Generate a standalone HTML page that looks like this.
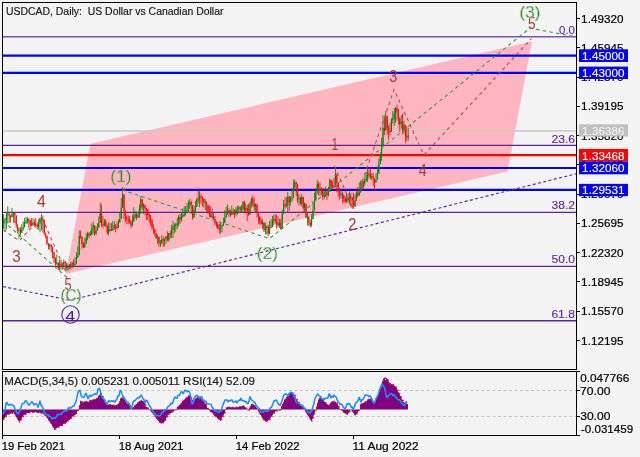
<!DOCTYPE html>
<html><head><meta charset="utf-8"><style>
html,body{margin:0;padding:0;background:#f4f4f4;width:640px;height:457px;overflow:hidden}
svg{display:block;will-change:transform}
</style></head><body><svg width="640" height="457" viewBox="0 0 640 457"><rect x="0" y="0" width="640" height="457" fill="#f4f4f4"/><rect x="2.5" y="2.5" width="574" height="367" fill="#f3f3f3"/><rect x="2.5" y="371.5" width="574" height="64" fill="#f3f3f3"/><polygon points="90.5,143.7 532,41.5 507.5,171.6 65.7,274" fill="#ffb6c1"/><line x1="3" y1="36.7" x2="576" y2="36.7" stroke="#8050b8" stroke-width="1.6"/><line x1="3" y1="55.6" x2="576" y2="55.6" stroke="#0000ff" stroke-width="2.2"/><line x1="3" y1="72.9" x2="576" y2="72.9" stroke="#0000ff" stroke-width="2.2"/><line x1="3" y1="131" x2="576" y2="131" stroke="#c8c8c8" stroke-width="1.5"/><line x1="3" y1="145.4" x2="576" y2="145.4" stroke="#5e22a0" stroke-width="1.4"/><line x1="3" y1="155.1" x2="576" y2="155.1" stroke="#ff0000" stroke-width="2.2"/><line x1="3" y1="168.0" x2="576" y2="168.0" stroke="#0000ff" stroke-width="2.2"/><line x1="3" y1="189.9" x2="576" y2="189.9" stroke="#0000ff" stroke-width="2.2"/><line x1="3" y1="212.4" x2="576" y2="212.4" stroke="#5e22a0" stroke-width="1.4"/><line x1="3" y1="266.4" x2="576" y2="266.4" stroke="#5e22a0" stroke-width="1.4"/><line x1="3" y1="320.8" x2="576" y2="320.8" stroke="#5e22a0" stroke-width="1.4"/><polyline points="3,286.5 70,300.3 576,173.8" fill="none" stroke="#5e22a0" stroke-width="1.15" stroke-dasharray="3,2.4"/><rect x="3.20" y="214.2" width="0.8" height="14.3" fill="#008000"/><rect x="3.05" y="220.7" width="1.1" height="1.9" fill="#008000"/><rect x="4.60" y="217.9" width="0.8" height="13.8" fill="#008000"/><rect x="4.45" y="219.4" width="1.1" height="1.5" fill="#008000"/><rect x="6.00" y="213.0" width="0.8" height="16.3" fill="#008000"/><rect x="5.85" y="214.8" width="1.1" height="4.9" fill="#008000"/><rect x="7.40" y="206.3" width="0.8" height="17.2" fill="#008000"/><rect x="7.25" y="213.7" width="1.1" height="1.5" fill="#008000"/><rect x="8.80" y="211.9" width="0.8" height="11.1" fill="#ff0000"/><rect x="8.65" y="214.1" width="1.1" height="1.5" fill="#ff0000"/><rect x="10.20" y="215.1" width="0.8" height="7.3" fill="#ff0000"/><rect x="10.05" y="215.5" width="1.1" height="1.8" fill="#ff0000"/><rect x="11.60" y="207.9" width="0.8" height="9.3" fill="#008000"/><rect x="11.45" y="213.8" width="1.1" height="3.4" fill="#008000"/><rect x="13.00" y="212.5" width="0.8" height="10.2" fill="#008000"/><rect x="12.85" y="212.5" width="1.1" height="1.5" fill="#008000"/><rect x="14.40" y="212.1" width="0.8" height="11.3" fill="#ff0000"/><rect x="14.25" y="212.7" width="1.1" height="2.6" fill="#ff0000"/><rect x="15.80" y="215.4" width="0.8" height="12.1" fill="#ff0000"/><rect x="15.65" y="215.4" width="1.1" height="9.9" fill="#ff0000"/><rect x="17.20" y="224.4" width="0.8" height="9.0" fill="#ff0000"/><rect x="17.05" y="225.3" width="1.1" height="4.8" fill="#ff0000"/><rect x="18.60" y="227.2" width="0.8" height="11.6" fill="#008000"/><rect x="18.45" y="229.4" width="1.1" height="1.5" fill="#008000"/><rect x="20.00" y="227.0" width="0.8" height="9.4" fill="#ff0000"/><rect x="19.85" y="230.1" width="1.1" height="2.7" fill="#ff0000"/><rect x="21.40" y="223.9" width="0.8" height="8.9" fill="#008000"/><rect x="21.25" y="228.7" width="1.1" height="4.1" fill="#008000"/><rect x="22.80" y="221.5" width="0.8" height="9.0" fill="#008000"/><rect x="22.65" y="227.2" width="1.1" height="1.5" fill="#008000"/><rect x="24.20" y="218.2" width="0.8" height="9.1" fill="#008000"/><rect x="24.05" y="222.6" width="1.1" height="4.7" fill="#008000"/><rect x="25.60" y="216.9" width="0.8" height="6.7" fill="#008000"/><rect x="25.45" y="221.7" width="1.1" height="1.5" fill="#008000"/><rect x="27.00" y="217.2" width="0.8" height="6.3" fill="#008000"/><rect x="26.85" y="218.9" width="1.1" height="3.4" fill="#008000"/><rect x="28.40" y="218.3" width="0.8" height="10.0" fill="#ff0000"/><rect x="28.25" y="218.9" width="1.1" height="1.5" fill="#ff0000"/><rect x="29.80" y="220.0" width="0.8" height="7.6" fill="#ff0000"/><rect x="29.65" y="220.3" width="1.1" height="4.3" fill="#ff0000"/><rect x="31.20" y="218.0" width="0.8" height="8.3" fill="#ff0000"/><rect x="31.05" y="224.1" width="1.1" height="1.5" fill="#ff0000"/><rect x="32.60" y="217.9" width="0.8" height="8.2" fill="#008000"/><rect x="32.45" y="222.4" width="1.1" height="2.6" fill="#008000"/><rect x="34.00" y="219.6" width="0.8" height="7.2" fill="#ff0000"/><rect x="33.85" y="222.4" width="1.1" height="2.3" fill="#ff0000"/><rect x="35.40" y="218.0" width="0.8" height="9.6" fill="#ff0000"/><rect x="35.25" y="224.1" width="1.1" height="1.5" fill="#ff0000"/><rect x="36.80" y="222.5" width="0.8" height="6.6" fill="#ff0000"/><rect x="36.65" y="224.9" width="1.1" height="1.7" fill="#ff0000"/><rect x="38.20" y="219.8" width="0.8" height="10.2" fill="#008000"/><rect x="38.05" y="223.6" width="1.1" height="3.0" fill="#008000"/><rect x="39.60" y="218.1" width="0.8" height="14.1" fill="#008000"/><rect x="39.45" y="219.6" width="1.1" height="4.0" fill="#008000"/><rect x="41.00" y="213.9" width="0.8" height="16.4" fill="#008000"/><rect x="40.85" y="218.6" width="1.1" height="1.5" fill="#008000"/><rect x="42.40" y="215.5" width="0.8" height="17.2" fill="#ff0000"/><rect x="42.25" y="218.7" width="1.1" height="1.5" fill="#ff0000"/><rect x="43.80" y="219.8" width="0.8" height="15.5" fill="#ff0000"/><rect x="43.65" y="219.8" width="1.1" height="13.2" fill="#ff0000"/><rect x="45.20" y="232.8" width="0.8" height="5.7" fill="#ff0000"/><rect x="45.05" y="233.0" width="1.1" height="2.8" fill="#ff0000"/><rect x="46.60" y="235.8" width="0.8" height="9.5" fill="#ff0000"/><rect x="46.45" y="235.8" width="1.1" height="7.7" fill="#ff0000"/><rect x="48.00" y="243.5" width="0.8" height="5.8" fill="#ff0000"/><rect x="47.85" y="243.5" width="1.1" height="2.7" fill="#ff0000"/><rect x="49.40" y="243.3" width="0.8" height="6.9" fill="#008000"/><rect x="49.25" y="245.0" width="1.1" height="1.5" fill="#008000"/><rect x="50.80" y="244.0" width="0.8" height="8.3" fill="#ff0000"/><rect x="50.65" y="245.2" width="1.1" height="1.5" fill="#ff0000"/><rect x="52.20" y="246.6" width="0.8" height="12.0" fill="#ff0000"/><rect x="52.05" y="246.6" width="1.1" height="5.3" fill="#ff0000"/><rect x="53.60" y="251.9" width="0.8" height="10.8" fill="#ff0000"/><rect x="53.45" y="251.9" width="1.1" height="6.5" fill="#ff0000"/><rect x="55.00" y="257.2" width="0.8" height="8.9" fill="#ff0000"/><rect x="54.85" y="258.4" width="1.1" height="4.8" fill="#ff0000"/><rect x="56.40" y="254.4" width="0.8" height="10.4" fill="#008000"/><rect x="56.25" y="262.1" width="1.1" height="1.5" fill="#008000"/><rect x="57.80" y="262.6" width="0.8" height="7.5" fill="#ff0000"/><rect x="57.65" y="262.6" width="1.1" height="5.8" fill="#ff0000"/><rect x="59.20" y="259.5" width="0.8" height="10.6" fill="#008000"/><rect x="59.05" y="263.6" width="1.1" height="4.8" fill="#008000"/><rect x="60.60" y="259.6" width="0.8" height="10.6" fill="#ff0000"/><rect x="60.45" y="263.6" width="1.1" height="2.1" fill="#ff0000"/><rect x="62.00" y="263.0" width="0.8" height="6.6" fill="#008000"/><rect x="61.85" y="264.8" width="1.1" height="1.5" fill="#008000"/><rect x="63.40" y="259.4" width="0.8" height="9.7" fill="#008000"/><rect x="63.25" y="261.9" width="1.1" height="3.4" fill="#008000"/><rect x="64.80" y="261.0" width="0.8" height="8.9" fill="#ff0000"/><rect x="64.65" y="261.6" width="1.1" height="1.5" fill="#ff0000"/><rect x="66.20" y="262.9" width="0.8" height="7.8" fill="#ff0000"/><rect x="66.05" y="262.9" width="1.1" height="5.5" fill="#ff0000"/><rect x="67.60" y="264.4" width="0.8" height="6.8" fill="#008000"/><rect x="67.45" y="266.7" width="1.1" height="1.6" fill="#008000"/><rect x="69.00" y="264.1" width="0.8" height="5.0" fill="#008000"/><rect x="68.85" y="264.9" width="1.1" height="1.8" fill="#008000"/><rect x="70.40" y="261.8" width="0.8" height="7.7" fill="#ff0000"/><rect x="70.25" y="264.3" width="1.1" height="1.5" fill="#ff0000"/><rect x="71.80" y="261.5" width="0.8" height="6.6" fill="#008000"/><rect x="71.65" y="263.1" width="1.1" height="2.0" fill="#008000"/><rect x="73.20" y="259.7" width="0.8" height="7.8" fill="#ff0000"/><rect x="73.05" y="263.1" width="1.1" height="1.8" fill="#ff0000"/><rect x="74.60" y="257.0" width="0.8" height="8.7" fill="#008000"/><rect x="74.45" y="263.5" width="1.1" height="1.5" fill="#008000"/><rect x="76.00" y="252.4" width="0.8" height="11.2" fill="#008000"/><rect x="75.85" y="257.8" width="1.1" height="5.7" fill="#008000"/><rect x="77.40" y="246.3" width="0.8" height="11.5" fill="#008000"/><rect x="77.25" y="255.2" width="1.1" height="2.6" fill="#008000"/><rect x="78.80" y="230.2" width="0.8" height="25.0" fill="#008000"/><rect x="78.65" y="236.0" width="1.1" height="19.2" fill="#008000"/><rect x="80.20" y="230.5" width="0.8" height="8.0" fill="#ff0000"/><rect x="80.05" y="235.6" width="1.1" height="1.5" fill="#ff0000"/><rect x="81.60" y="236.7" width="0.8" height="12.1" fill="#ff0000"/><rect x="81.45" y="236.7" width="1.1" height="7.8" fill="#ff0000"/><rect x="83.00" y="242.1" width="0.8" height="5.8" fill="#ff0000"/><rect x="82.85" y="244.5" width="1.1" height="3.0" fill="#ff0000"/><rect x="84.40" y="237.7" width="0.8" height="9.8" fill="#008000"/><rect x="84.25" y="244.0" width="1.1" height="3.5" fill="#008000"/><rect x="85.80" y="233.2" width="0.8" height="10.8" fill="#008000"/><rect x="85.65" y="238.2" width="1.1" height="5.8" fill="#008000"/><rect x="87.20" y="231.7" width="0.8" height="8.7" fill="#008000"/><rect x="87.05" y="233.4" width="1.1" height="4.8" fill="#008000"/><rect x="88.60" y="232.1" width="0.8" height="5.9" fill="#ff0000"/><rect x="88.45" y="233.4" width="1.1" height="2.1" fill="#ff0000"/><rect x="90.00" y="230.5" width="0.8" height="5.4" fill="#008000"/><rect x="89.85" y="234.4" width="1.1" height="1.5" fill="#008000"/><rect x="91.40" y="223.4" width="0.8" height="11.6" fill="#008000"/><rect x="91.25" y="228.2" width="1.1" height="6.7" fill="#008000"/><rect x="92.80" y="221.4" width="0.8" height="11.9" fill="#008000"/><rect x="92.65" y="225.4" width="1.1" height="2.8" fill="#008000"/><rect x="94.20" y="225.4" width="0.8" height="10.3" fill="#ff0000"/><rect x="94.05" y="225.4" width="1.1" height="8.5" fill="#ff0000"/><rect x="95.60" y="225.9" width="0.8" height="9.3" fill="#008000"/><rect x="95.45" y="230.5" width="1.1" height="3.3" fill="#008000"/><rect x="97.00" y="223.4" width="0.8" height="7.2" fill="#008000"/><rect x="96.85" y="227.5" width="1.1" height="3.0" fill="#008000"/><rect x="98.40" y="216.4" width="0.8" height="11.1" fill="#008000"/><rect x="98.25" y="222.9" width="1.1" height="4.7" fill="#008000"/><rect x="99.80" y="202.5" width="0.8" height="20.4" fill="#008000"/><rect x="99.65" y="213.3" width="1.1" height="9.6" fill="#008000"/><rect x="101.20" y="204.4" width="0.8" height="22.5" fill="#ff0000"/><rect x="101.05" y="213.3" width="1.1" height="10.9" fill="#ff0000"/><rect x="102.60" y="216.3" width="0.8" height="12.0" fill="#ff0000"/><rect x="102.45" y="224.0" width="1.1" height="1.5" fill="#ff0000"/><rect x="104.00" y="218.9" width="0.8" height="7.4" fill="#008000"/><rect x="103.85" y="221.4" width="1.1" height="3.9" fill="#008000"/><rect x="105.40" y="219.3" width="0.8" height="7.9" fill="#ff0000"/><rect x="105.25" y="221.4" width="1.1" height="4.6" fill="#ff0000"/><rect x="106.80" y="224.3" width="0.8" height="10.1" fill="#ff0000"/><rect x="106.65" y="226.0" width="1.1" height="6.7" fill="#ff0000"/><rect x="108.20" y="222.2" width="0.8" height="13.4" fill="#008000"/><rect x="108.05" y="229.1" width="1.1" height="3.6" fill="#008000"/><rect x="109.60" y="222.9" width="0.8" height="8.9" fill="#ff0000"/><rect x="109.45" y="229.1" width="1.1" height="1.6" fill="#ff0000"/><rect x="111.00" y="223.1" width="0.8" height="7.9" fill="#008000"/><rect x="110.85" y="229.5" width="1.1" height="1.5" fill="#008000"/><rect x="112.40" y="221.0" width="0.8" height="9.9" fill="#008000"/><rect x="112.25" y="228.2" width="1.1" height="1.6" fill="#008000"/><rect x="113.80" y="221.2" width="0.8" height="8.7" fill="#008000"/><rect x="113.65" y="224.8" width="1.1" height="3.4" fill="#008000"/><rect x="115.20" y="224.3" width="0.8" height="7.6" fill="#ff0000"/><rect x="115.05" y="224.8" width="1.1" height="1.9" fill="#ff0000"/><rect x="116.60" y="221.5" width="0.8" height="8.0" fill="#ff0000"/><rect x="116.45" y="226.5" width="1.1" height="1.5" fill="#ff0000"/><rect x="118.00" y="219.3" width="0.8" height="8.6" fill="#008000"/><rect x="117.85" y="222.5" width="1.1" height="5.4" fill="#008000"/><rect x="119.40" y="212.8" width="0.8" height="9.6" fill="#008000"/><rect x="119.25" y="219.0" width="1.1" height="3.5" fill="#008000"/><rect x="120.80" y="197.8" width="0.8" height="21.2" fill="#008000"/><rect x="120.65" y="207.6" width="1.1" height="11.5" fill="#008000"/><rect x="122.20" y="187.1" width="0.8" height="20.5" fill="#008000"/><rect x="122.05" y="194.5" width="1.1" height="13.0" fill="#008000"/><rect x="123.60" y="194.5" width="0.8" height="24.5" fill="#ff0000"/><rect x="123.45" y="194.5" width="1.1" height="16.2" fill="#ff0000"/><rect x="125.00" y="210.5" width="0.8" height="11.5" fill="#ff0000"/><rect x="124.85" y="210.7" width="1.1" height="6.5" fill="#ff0000"/><rect x="126.40" y="215.1" width="0.8" height="9.3" fill="#ff0000"/><rect x="126.25" y="217.1" width="1.1" height="2.0" fill="#ff0000"/><rect x="127.80" y="215.4" width="0.8" height="9.0" fill="#ff0000"/><rect x="127.65" y="219.0" width="1.1" height="1.5" fill="#ff0000"/><rect x="129.20" y="216.1" width="0.8" height="7.6" fill="#ff0000"/><rect x="129.05" y="220.2" width="1.1" height="1.5" fill="#ff0000"/><rect x="130.60" y="220.0" width="0.8" height="8.1" fill="#ff0000"/><rect x="130.45" y="221.5" width="1.1" height="3.7" fill="#ff0000"/><rect x="132.00" y="214.7" width="0.8" height="11.7" fill="#008000"/><rect x="131.85" y="221.7" width="1.1" height="3.5" fill="#008000"/><rect x="133.40" y="207.0" width="0.8" height="14.7" fill="#008000"/><rect x="133.25" y="216.6" width="1.1" height="5.1" fill="#008000"/><rect x="134.80" y="211.2" width="0.8" height="7.7" fill="#008000"/><rect x="134.65" y="214.5" width="1.1" height="2.1" fill="#008000"/><rect x="136.20" y="212.3" width="0.8" height="7.6" fill="#ff0000"/><rect x="136.05" y="214.5" width="1.1" height="3.0" fill="#ff0000"/><rect x="137.60" y="211.7" width="0.8" height="6.3" fill="#008000"/><rect x="137.45" y="215.1" width="1.1" height="2.4" fill="#008000"/><rect x="139.00" y="204.2" width="0.8" height="13.8" fill="#008000"/><rect x="138.85" y="208.2" width="1.1" height="6.8" fill="#008000"/><rect x="140.40" y="196.0" width="0.8" height="18.0" fill="#008000"/><rect x="140.25" y="199.4" width="1.1" height="8.9" fill="#008000"/><rect x="141.80" y="199.0" width="0.8" height="11.1" fill="#ff0000"/><rect x="141.65" y="199.4" width="1.1" height="7.6" fill="#ff0000"/><rect x="143.20" y="203.2" width="0.8" height="10.8" fill="#008000"/><rect x="143.05" y="204.9" width="1.1" height="2.1" fill="#008000"/><rect x="144.60" y="204.9" width="0.8" height="10.4" fill="#ff0000"/><rect x="144.45" y="204.9" width="1.1" height="3.5" fill="#ff0000"/><rect x="146.00" y="207.8" width="0.8" height="12.5" fill="#ff0000"/><rect x="145.85" y="208.1" width="1.1" height="1.5" fill="#ff0000"/><rect x="147.40" y="209.3" width="0.8" height="10.6" fill="#ff0000"/><rect x="147.25" y="209.3" width="1.1" height="5.9" fill="#ff0000"/><rect x="148.80" y="213.0" width="0.8" height="9.9" fill="#ff0000"/><rect x="148.65" y="214.6" width="1.1" height="1.5" fill="#ff0000"/><rect x="150.20" y="215.2" width="0.8" height="10.3" fill="#ff0000"/><rect x="150.05" y="215.5" width="1.1" height="4.0" fill="#ff0000"/><rect x="151.60" y="219.5" width="0.8" height="10.4" fill="#ff0000"/><rect x="151.45" y="219.5" width="1.1" height="7.6" fill="#ff0000"/><rect x="153.00" y="224.1" width="0.8" height="9.7" fill="#ff0000"/><rect x="152.85" y="227.1" width="1.1" height="1.9" fill="#ff0000"/><rect x="154.40" y="229.0" width="0.8" height="7.6" fill="#ff0000"/><rect x="154.25" y="229.0" width="1.1" height="4.0" fill="#ff0000"/><rect x="155.80" y="232.9" width="0.8" height="5.7" fill="#ff0000"/><rect x="155.65" y="233.0" width="1.1" height="5.6" fill="#ff0000"/><rect x="157.20" y="234.6" width="0.8" height="9.4" fill="#008000"/><rect x="157.05" y="236.8" width="1.1" height="1.8" fill="#008000"/><rect x="158.60" y="236.8" width="0.8" height="9.8" fill="#ff0000"/><rect x="158.45" y="236.8" width="1.1" height="6.5" fill="#ff0000"/><rect x="160.00" y="240.0" width="0.8" height="7.0" fill="#008000"/><rect x="159.85" y="242.3" width="1.1" height="1.5" fill="#008000"/><rect x="161.40" y="235.2" width="0.8" height="9.6" fill="#008000"/><rect x="161.25" y="239.4" width="1.1" height="3.4" fill="#008000"/><rect x="162.80" y="236.2" width="0.8" height="10.4" fill="#ff0000"/><rect x="162.65" y="239.4" width="1.1" height="1.5" fill="#ff0000"/><rect x="164.20" y="238.0" width="0.8" height="8.6" fill="#008000"/><rect x="164.05" y="238.9" width="1.1" height="2.1" fill="#008000"/><rect x="165.60" y="236.0" width="0.8" height="7.8" fill="#008000"/><rect x="165.45" y="236.2" width="1.1" height="2.7" fill="#008000"/><rect x="167.00" y="231.3" width="0.8" height="10.2" fill="#ff0000"/><rect x="166.85" y="236.2" width="1.1" height="4.0" fill="#ff0000"/><rect x="168.40" y="233.0" width="0.8" height="8.8" fill="#008000"/><rect x="168.25" y="233.3" width="1.1" height="6.8" fill="#008000"/><rect x="169.80" y="230.8" width="0.8" height="7.6" fill="#ff0000"/><rect x="169.65" y="233.0" width="1.1" height="1.5" fill="#ff0000"/><rect x="171.20" y="224.8" width="0.8" height="13.3" fill="#008000"/><rect x="171.05" y="230.0" width="1.1" height="4.0" fill="#008000"/><rect x="172.60" y="220.9" width="0.8" height="17.0" fill="#008000"/><rect x="172.45" y="226.6" width="1.1" height="3.4" fill="#008000"/><rect x="174.00" y="223.5" width="0.8" height="9.8" fill="#008000"/><rect x="173.85" y="225.4" width="1.1" height="1.5" fill="#008000"/><rect x="175.40" y="222.6" width="0.8" height="9.0" fill="#008000"/><rect x="175.25" y="224.6" width="1.1" height="1.5" fill="#008000"/><rect x="176.80" y="217.6" width="0.8" height="11.4" fill="#008000"/><rect x="176.65" y="223.5" width="1.1" height="1.5" fill="#008000"/><rect x="178.20" y="215.1" width="0.8" height="11.2" fill="#008000"/><rect x="178.05" y="217.0" width="1.1" height="6.6" fill="#008000"/><rect x="179.60" y="213.8" width="0.8" height="10.1" fill="#ff0000"/><rect x="179.45" y="217.0" width="1.1" height="3.0" fill="#ff0000"/><rect x="181.00" y="212.5" width="0.8" height="9.3" fill="#008000"/><rect x="180.85" y="215.6" width="1.1" height="4.3" fill="#008000"/><rect x="182.40" y="208.3" width="0.8" height="9.7" fill="#008000"/><rect x="182.25" y="214.9" width="1.1" height="1.5" fill="#008000"/><rect x="183.80" y="206.3" width="0.8" height="10.6" fill="#008000"/><rect x="183.65" y="214.3" width="1.1" height="1.5" fill="#008000"/><rect x="185.20" y="206.0" width="0.8" height="9.3" fill="#008000"/><rect x="185.05" y="211.1" width="1.1" height="3.5" fill="#008000"/><rect x="186.60" y="202.7" width="0.8" height="9.1" fill="#008000"/><rect x="186.45" y="209.7" width="1.1" height="1.5" fill="#008000"/><rect x="188.00" y="200.5" width="0.8" height="11.5" fill="#008000"/><rect x="187.85" y="205.1" width="1.1" height="4.8" fill="#008000"/><rect x="189.40" y="198.7" width="0.8" height="10.0" fill="#008000"/><rect x="189.25" y="202.1" width="1.1" height="3.0" fill="#008000"/><rect x="190.80" y="200.8" width="0.8" height="13.1" fill="#ff0000"/><rect x="190.65" y="202.1" width="1.1" height="3.1" fill="#ff0000"/><rect x="192.20" y="205.2" width="0.8" height="14.5" fill="#ff0000"/><rect x="192.05" y="205.2" width="1.1" height="12.5" fill="#ff0000"/><rect x="193.60" y="205.7" width="0.8" height="12.1" fill="#008000"/><rect x="193.45" y="210.0" width="1.1" height="7.7" fill="#008000"/><rect x="195.00" y="200.7" width="0.8" height="12.3" fill="#008000"/><rect x="194.85" y="207.0" width="1.1" height="2.9" fill="#008000"/><rect x="196.40" y="197.5" width="0.8" height="9.5" fill="#008000"/><rect x="196.25" y="199.3" width="1.1" height="7.7" fill="#008000"/><rect x="197.80" y="190.8" width="0.8" height="12.7" fill="#ff0000"/><rect x="197.65" y="198.7" width="1.1" height="1.5" fill="#ff0000"/><rect x="199.20" y="191.3" width="0.8" height="15.8" fill="#008000"/><rect x="199.05" y="196.4" width="1.1" height="3.1" fill="#008000"/><rect x="200.60" y="193.5" width="0.8" height="10.5" fill="#ff0000"/><rect x="200.45" y="196.4" width="1.1" height="1.5" fill="#ff0000"/><rect x="202.00" y="196.3" width="0.8" height="9.9" fill="#ff0000"/><rect x="201.85" y="197.5" width="1.1" height="1.5" fill="#ff0000"/><rect x="203.40" y="198.6" width="0.8" height="8.6" fill="#ff0000"/><rect x="203.25" y="198.6" width="1.1" height="3.3" fill="#ff0000"/><rect x="204.80" y="199.1" width="0.8" height="11.0" fill="#008000"/><rect x="204.65" y="201.2" width="1.1" height="1.5" fill="#008000"/><rect x="206.20" y="201.9" width="0.8" height="10.2" fill="#ff0000"/><rect x="206.05" y="201.9" width="1.1" height="3.2" fill="#ff0000"/><rect x="207.60" y="204.7" width="0.8" height="9.2" fill="#ff0000"/><rect x="207.45" y="205.1" width="1.1" height="6.4" fill="#ff0000"/><rect x="209.00" y="205.5" width="0.8" height="11.6" fill="#ff0000"/><rect x="208.85" y="211.5" width="1.1" height="2.9" fill="#ff0000"/><rect x="210.40" y="206.5" width="0.8" height="11.0" fill="#ff0000"/><rect x="210.25" y="214.4" width="1.1" height="2.8" fill="#ff0000"/><rect x="211.80" y="208.4" width="0.8" height="10.3" fill="#008000"/><rect x="211.65" y="215.8" width="1.1" height="1.5" fill="#008000"/><rect x="213.20" y="212.9" width="0.8" height="7.3" fill="#ff0000"/><rect x="213.05" y="216.0" width="1.1" height="3.2" fill="#ff0000"/><rect x="214.60" y="216.2" width="0.8" height="9.2" fill="#ff0000"/><rect x="214.45" y="219.2" width="1.1" height="4.1" fill="#ff0000"/><rect x="216.00" y="221.1" width="0.8" height="6.5" fill="#ff0000"/><rect x="215.85" y="223.1" width="1.1" height="1.5" fill="#ff0000"/><rect x="217.40" y="222.2" width="0.8" height="7.1" fill="#ff0000"/><rect x="217.25" y="224.4" width="1.1" height="3.9" fill="#ff0000"/><rect x="218.80" y="223.5" width="0.8" height="9.4" fill="#ff0000"/><rect x="218.65" y="227.8" width="1.1" height="1.5" fill="#ff0000"/><rect x="220.20" y="223.2" width="0.8" height="10.6" fill="#008000"/><rect x="220.05" y="225.6" width="1.1" height="3.2" fill="#008000"/><rect x="221.60" y="224.7" width="0.8" height="7.6" fill="#008000"/><rect x="221.45" y="224.8" width="1.1" height="1.5" fill="#008000"/><rect x="223.00" y="217.9" width="0.8" height="8.1" fill="#008000"/><rect x="222.85" y="223.0" width="1.1" height="2.5" fill="#008000"/><rect x="224.40" y="209.8" width="0.8" height="13.1" fill="#008000"/><rect x="224.25" y="217.3" width="1.1" height="5.7" fill="#008000"/><rect x="225.80" y="206.8" width="0.8" height="10.9" fill="#008000"/><rect x="225.65" y="214.5" width="1.1" height="2.8" fill="#008000"/><rect x="227.20" y="204.2" width="0.8" height="10.3" fill="#008000"/><rect x="227.05" y="210.7" width="1.1" height="3.8" fill="#008000"/><rect x="228.60" y="207.7" width="0.8" height="9.1" fill="#ff0000"/><rect x="228.45" y="210.1" width="1.1" height="1.5" fill="#ff0000"/><rect x="230.00" y="210.0" width="0.8" height="6.7" fill="#ff0000"/><rect x="229.85" y="211.1" width="1.1" height="3.9" fill="#ff0000"/><rect x="231.40" y="205.5" width="0.8" height="9.6" fill="#008000"/><rect x="231.25" y="213.5" width="1.1" height="1.5" fill="#008000"/><rect x="232.80" y="208.5" width="0.8" height="6.3" fill="#008000"/><rect x="232.65" y="211.7" width="1.1" height="1.9" fill="#008000"/><rect x="234.20" y="209.3" width="0.8" height="9.0" fill="#ff0000"/><rect x="234.05" y="211.7" width="1.1" height="2.1" fill="#ff0000"/><rect x="235.60" y="206.9" width="0.8" height="9.6" fill="#008000"/><rect x="235.45" y="209.9" width="1.1" height="3.9" fill="#008000"/><rect x="237.00" y="205.8" width="0.8" height="9.0" fill="#008000"/><rect x="236.85" y="208.4" width="1.1" height="1.5" fill="#008000"/><rect x="238.40" y="205.6" width="0.8" height="6.3" fill="#008000"/><rect x="238.25" y="207.1" width="1.1" height="1.5" fill="#008000"/><rect x="239.80" y="206.5" width="0.8" height="6.0" fill="#ff0000"/><rect x="239.65" y="207.2" width="1.1" height="2.7" fill="#ff0000"/><rect x="241.20" y="205.2" width="0.8" height="7.8" fill="#008000"/><rect x="241.05" y="208.8" width="1.1" height="1.5" fill="#008000"/><rect x="242.60" y="201.2" width="0.8" height="10.7" fill="#008000"/><rect x="242.45" y="201.8" width="1.1" height="7.5" fill="#008000"/><rect x="244.00" y="200.8" width="0.8" height="12.7" fill="#ff0000"/><rect x="243.85" y="201.8" width="1.1" height="8.3" fill="#ff0000"/><rect x="245.40" y="203.5" width="0.8" height="9.0" fill="#008000"/><rect x="245.25" y="207.9" width="1.1" height="2.2" fill="#008000"/><rect x="246.80" y="205.0" width="0.8" height="16.0" fill="#ff0000"/><rect x="246.65" y="207.9" width="1.1" height="4.4" fill="#ff0000"/><rect x="248.20" y="203.8" width="0.8" height="12.1" fill="#ff0000"/><rect x="248.05" y="212.3" width="1.1" height="2.4" fill="#ff0000"/><rect x="249.60" y="201.3" width="0.8" height="13.3" fill="#008000"/><rect x="249.45" y="203.3" width="1.1" height="11.4" fill="#008000"/><rect x="251.00" y="197.6" width="0.8" height="9.8" fill="#008000"/><rect x="250.85" y="198.6" width="1.1" height="4.7" fill="#008000"/><rect x="252.40" y="195.3" width="0.8" height="11.6" fill="#ff0000"/><rect x="252.25" y="198.6" width="1.1" height="5.1" fill="#ff0000"/><rect x="253.80" y="197.4" width="0.8" height="13.2" fill="#ff0000"/><rect x="253.65" y="203.7" width="1.1" height="3.0" fill="#ff0000"/><rect x="255.20" y="203.3" width="0.8" height="9.7" fill="#008000"/><rect x="255.05" y="204.4" width="1.1" height="2.3" fill="#008000"/><rect x="256.60" y="204.4" width="0.8" height="13.3" fill="#ff0000"/><rect x="256.45" y="204.4" width="1.1" height="7.7" fill="#ff0000"/><rect x="258.00" y="212.1" width="0.8" height="11.6" fill="#ff0000"/><rect x="257.85" y="212.1" width="1.1" height="4.4" fill="#ff0000"/><rect x="259.40" y="216.5" width="0.8" height="8.3" fill="#ff0000"/><rect x="259.25" y="216.5" width="1.1" height="4.7" fill="#ff0000"/><rect x="260.80" y="218.2" width="0.8" height="6.3" fill="#ff0000"/><rect x="260.65" y="221.2" width="1.1" height="3.0" fill="#ff0000"/><rect x="262.20" y="219.3" width="0.8" height="9.6" fill="#008000"/><rect x="262.05" y="222.6" width="1.1" height="1.5" fill="#008000"/><rect x="263.60" y="222.0" width="0.8" height="9.9" fill="#ff0000"/><rect x="263.45" y="222.7" width="1.1" height="7.7" fill="#ff0000"/><rect x="265.00" y="222.7" width="0.8" height="11.8" fill="#008000"/><rect x="264.85" y="227.7" width="1.1" height="2.7" fill="#008000"/><rect x="266.40" y="225.7" width="0.8" height="8.6" fill="#008000"/><rect x="266.25" y="226.3" width="1.1" height="1.5" fill="#008000"/><rect x="267.80" y="225.0" width="0.8" height="11.3" fill="#ff0000"/><rect x="267.65" y="226.4" width="1.1" height="7.6" fill="#ff0000"/><rect x="269.20" y="221.1" width="0.8" height="12.9" fill="#008000"/><rect x="269.05" y="227.7" width="1.1" height="6.3" fill="#008000"/><rect x="270.60" y="219.0" width="0.8" height="9.1" fill="#008000"/><rect x="270.45" y="226.6" width="1.1" height="1.5" fill="#008000"/><rect x="272.00" y="215.9" width="0.8" height="11.2" fill="#008000"/><rect x="271.85" y="220.6" width="1.1" height="6.5" fill="#008000"/><rect x="273.40" y="214.6" width="0.8" height="10.1" fill="#008000"/><rect x="273.25" y="218.9" width="1.1" height="1.6" fill="#008000"/><rect x="274.80" y="214.2" width="0.8" height="9.0" fill="#ff0000"/><rect x="274.65" y="218.9" width="1.1" height="2.0" fill="#ff0000"/><rect x="276.20" y="214.7" width="0.8" height="13.9" fill="#ff0000"/><rect x="276.05" y="220.9" width="1.1" height="1.6" fill="#ff0000"/><rect x="277.60" y="216.2" width="0.8" height="10.9" fill="#ff0000"/><rect x="277.45" y="222.5" width="1.1" height="2.9" fill="#ff0000"/><rect x="279.00" y="218.8" width="0.8" height="9.2" fill="#008000"/><rect x="278.85" y="222.9" width="1.1" height="2.5" fill="#008000"/><rect x="280.40" y="218.8" width="0.8" height="10.9" fill="#ff0000"/><rect x="280.25" y="222.9" width="1.1" height="6.1" fill="#ff0000"/><rect x="281.80" y="209.8" width="0.8" height="19.2" fill="#008000"/><rect x="281.65" y="214.0" width="1.1" height="15.0" fill="#008000"/><rect x="283.20" y="200.0" width="0.8" height="14.0" fill="#008000"/><rect x="283.05" y="204.0" width="1.1" height="10.0" fill="#008000"/><rect x="284.60" y="197.3" width="0.8" height="11.5" fill="#ff0000"/><rect x="284.45" y="204.0" width="1.1" height="1.9" fill="#ff0000"/><rect x="286.00" y="196.9" width="0.8" height="10.5" fill="#008000"/><rect x="285.85" y="204.7" width="1.1" height="1.5" fill="#008000"/><rect x="287.40" y="192.0" width="0.8" height="19.7" fill="#008000"/><rect x="287.25" y="196.8" width="1.1" height="8.2" fill="#008000"/><rect x="288.80" y="195.7" width="0.8" height="15.1" fill="#ff0000"/><rect x="288.65" y="196.8" width="1.1" height="5.2" fill="#ff0000"/><rect x="290.20" y="196.0" width="0.8" height="9.4" fill="#008000"/><rect x="290.05" y="199.1" width="1.1" height="2.9" fill="#008000"/><rect x="291.60" y="189.1" width="0.8" height="12.6" fill="#008000"/><rect x="291.45" y="197.7" width="1.1" height="1.5" fill="#008000"/><rect x="293.00" y="179.6" width="0.8" height="18.2" fill="#008000"/><rect x="292.85" y="187.2" width="1.1" height="10.6" fill="#008000"/><rect x="294.40" y="179.3" width="0.8" height="11.7" fill="#008000"/><rect x="294.25" y="182.1" width="1.1" height="5.1" fill="#008000"/><rect x="295.80" y="181.6" width="0.8" height="14.6" fill="#ff0000"/><rect x="295.65" y="182.1" width="1.1" height="2.3" fill="#ff0000"/><rect x="297.20" y="184.4" width="0.8" height="18.5" fill="#ff0000"/><rect x="297.05" y="184.4" width="1.1" height="14.7" fill="#ff0000"/><rect x="298.60" y="194.1" width="0.8" height="11.7" fill="#008000"/><rect x="298.45" y="197.7" width="1.1" height="1.5" fill="#008000"/><rect x="300.00" y="196.7" width="0.8" height="7.7" fill="#ff0000"/><rect x="299.85" y="197.8" width="1.1" height="6.4" fill="#ff0000"/><rect x="301.40" y="193.8" width="0.8" height="12.6" fill="#008000"/><rect x="301.25" y="197.0" width="1.1" height="7.2" fill="#008000"/><rect x="302.80" y="197.0" width="0.8" height="12.6" fill="#ff0000"/><rect x="302.65" y="197.0" width="1.1" height="10.8" fill="#ff0000"/><rect x="304.20" y="202.3" width="0.8" height="9.9" fill="#008000"/><rect x="304.05" y="203.8" width="1.1" height="4.0" fill="#008000"/><rect x="305.60" y="203.8" width="0.8" height="14.3" fill="#ff0000"/><rect x="305.45" y="203.8" width="1.1" height="13.5" fill="#ff0000"/><rect x="307.00" y="212.1" width="0.8" height="13.5" fill="#008000"/><rect x="306.85" y="216.3" width="1.1" height="1.5" fill="#008000"/><rect x="308.40" y="216.8" width="0.8" height="8.9" fill="#ff0000"/><rect x="308.25" y="216.8" width="1.1" height="5.6" fill="#ff0000"/><rect x="309.80" y="219.6" width="0.8" height="7.9" fill="#ff0000"/><rect x="309.65" y="222.4" width="1.1" height="2.9" fill="#ff0000"/><rect x="311.20" y="214.2" width="0.8" height="12.5" fill="#008000"/><rect x="311.05" y="219.1" width="1.1" height="6.1" fill="#008000"/><rect x="312.60" y="201.1" width="0.8" height="18.0" fill="#008000"/><rect x="312.45" y="210.3" width="1.1" height="8.8" fill="#008000"/><rect x="314.00" y="192.8" width="0.8" height="17.5" fill="#008000"/><rect x="313.85" y="200.6" width="1.1" height="9.7" fill="#008000"/><rect x="315.40" y="188.2" width="0.8" height="12.4" fill="#008000"/><rect x="315.25" y="191.0" width="1.1" height="9.6" fill="#008000"/><rect x="316.80" y="179.9" width="0.8" height="13.9" fill="#008000"/><rect x="316.65" y="184.0" width="1.1" height="7.0" fill="#008000"/><rect x="318.20" y="181.7" width="0.8" height="13.5" fill="#ff0000"/><rect x="318.05" y="184.0" width="1.1" height="4.9" fill="#ff0000"/><rect x="319.60" y="182.6" width="0.8" height="13.7" fill="#ff0000"/><rect x="319.45" y="188.9" width="1.1" height="2.0" fill="#ff0000"/><rect x="321.00" y="187.0" width="0.8" height="8.1" fill="#008000"/><rect x="320.85" y="189.8" width="1.1" height="1.5" fill="#008000"/><rect x="322.40" y="188.1" width="0.8" height="11.9" fill="#ff0000"/><rect x="322.25" y="190.2" width="1.1" height="6.7" fill="#ff0000"/><rect x="323.80" y="191.1" width="0.8" height="8.1" fill="#008000"/><rect x="323.65" y="192.6" width="1.1" height="4.3" fill="#008000"/><rect x="325.20" y="186.8" width="0.8" height="10.4" fill="#008000"/><rect x="325.05" y="191.2" width="1.1" height="1.5" fill="#008000"/><rect x="326.60" y="189.1" width="0.8" height="10.8" fill="#ff0000"/><rect x="326.45" y="191.4" width="1.1" height="4.2" fill="#ff0000"/><rect x="328.00" y="186.8" width="0.8" height="9.5" fill="#008000"/><rect x="327.85" y="191.6" width="1.1" height="3.9" fill="#008000"/><rect x="329.40" y="178.2" width="0.8" height="13.5" fill="#008000"/><rect x="329.25" y="180.0" width="1.1" height="11.6" fill="#008000"/><rect x="330.80" y="179.7" width="0.8" height="9.1" fill="#ff0000"/><rect x="330.65" y="180.0" width="1.1" height="6.4" fill="#ff0000"/><rect x="332.20" y="181.1" width="0.8" height="9.1" fill="#ff0000"/><rect x="332.05" y="185.8" width="1.1" height="1.5" fill="#ff0000"/><rect x="333.60" y="177.7" width="0.8" height="10.0" fill="#ff0000"/><rect x="333.45" y="186.2" width="1.1" height="1.5" fill="#ff0000"/><rect x="335.00" y="167.2" width="0.8" height="20.0" fill="#008000"/><rect x="334.85" y="174.1" width="1.1" height="13.0" fill="#008000"/><rect x="336.40" y="174.1" width="0.8" height="18.3" fill="#ff0000"/><rect x="336.25" y="174.1" width="1.1" height="8.4" fill="#ff0000"/><rect x="337.80" y="182.5" width="0.8" height="14.2" fill="#ff0000"/><rect x="337.65" y="182.5" width="1.1" height="5.7" fill="#ff0000"/><rect x="339.20" y="188.2" width="0.8" height="11.5" fill="#ff0000"/><rect x="339.05" y="188.2" width="1.1" height="6.5" fill="#ff0000"/><rect x="340.60" y="189.4" width="0.8" height="9.4" fill="#008000"/><rect x="340.45" y="193.9" width="1.1" height="1.5" fill="#008000"/><rect x="342.00" y="191.5" width="0.8" height="11.9" fill="#ff0000"/><rect x="341.85" y="194.0" width="1.1" height="1.5" fill="#ff0000"/><rect x="343.40" y="194.9" width="0.8" height="7.3" fill="#ff0000"/><rect x="343.25" y="194.9" width="1.1" height="3.7" fill="#ff0000"/><rect x="344.80" y="196.2" width="0.8" height="7.1" fill="#ff0000"/><rect x="344.65" y="198.6" width="1.1" height="3.1" fill="#ff0000"/><rect x="346.20" y="193.7" width="0.8" height="9.1" fill="#008000"/><rect x="346.05" y="198.2" width="1.1" height="3.4" fill="#008000"/><rect x="347.60" y="193.2" width="0.8" height="9.5" fill="#ff0000"/><rect x="347.45" y="198.2" width="1.1" height="2.3" fill="#ff0000"/><rect x="349.00" y="191.3" width="0.8" height="13.3" fill="#008000"/><rect x="348.85" y="196.7" width="1.1" height="3.8" fill="#008000"/><rect x="350.40" y="192.8" width="0.8" height="13.8" fill="#ff0000"/><rect x="350.25" y="196.2" width="1.1" height="1.5" fill="#ff0000"/><rect x="351.80" y="197.3" width="0.8" height="11.5" fill="#ff0000"/><rect x="351.65" y="197.3" width="1.1" height="3.1" fill="#ff0000"/><rect x="353.20" y="192.9" width="0.8" height="15.9" fill="#ff0000"/><rect x="353.05" y="200.4" width="1.1" height="6.1" fill="#ff0000"/><rect x="354.60" y="194.3" width="0.8" height="12.3" fill="#008000"/><rect x="354.45" y="200.9" width="1.1" height="5.6" fill="#008000"/><rect x="356.00" y="191.1" width="0.8" height="9.8" fill="#008000"/><rect x="355.85" y="192.6" width="1.1" height="8.3" fill="#008000"/><rect x="357.40" y="186.9" width="0.8" height="10.6" fill="#ff0000"/><rect x="357.25" y="192.6" width="1.1" height="2.9" fill="#ff0000"/><rect x="358.80" y="182.3" width="0.8" height="13.2" fill="#008000"/><rect x="358.65" y="192.1" width="1.1" height="3.5" fill="#008000"/><rect x="360.20" y="180.6" width="0.8" height="12.4" fill="#008000"/><rect x="360.05" y="188.2" width="1.1" height="3.8" fill="#008000"/><rect x="361.60" y="179.6" width="0.8" height="10.9" fill="#008000"/><rect x="361.45" y="182.6" width="1.1" height="5.6" fill="#008000"/><rect x="363.00" y="180.9" width="0.8" height="8.5" fill="#ff0000"/><rect x="362.85" y="182.2" width="1.1" height="1.5" fill="#ff0000"/><rect x="364.40" y="175.3" width="0.8" height="10.5" fill="#008000"/><rect x="364.25" y="180.5" width="1.1" height="2.8" fill="#008000"/><rect x="365.80" y="171.7" width="0.8" height="10.0" fill="#008000"/><rect x="365.65" y="178.3" width="1.1" height="2.2" fill="#008000"/><rect x="367.20" y="168.7" width="0.8" height="13.2" fill="#008000"/><rect x="367.05" y="173.3" width="1.1" height="5.1" fill="#008000"/><rect x="368.60" y="169.5" width="0.8" height="9.0" fill="#ff0000"/><rect x="368.45" y="173.3" width="1.1" height="2.5" fill="#ff0000"/><rect x="370.00" y="167.1" width="0.8" height="12.0" fill="#ff0000"/><rect x="369.85" y="175.5" width="1.1" height="1.5" fill="#ff0000"/><rect x="371.40" y="173.0" width="0.8" height="7.3" fill="#008000"/><rect x="371.25" y="175.8" width="1.1" height="1.5" fill="#008000"/><rect x="372.80" y="173.0" width="0.8" height="13.0" fill="#ff0000"/><rect x="372.65" y="176.4" width="1.1" height="2.4" fill="#ff0000"/><rect x="374.20" y="178.6" width="0.8" height="11.3" fill="#ff0000"/><rect x="374.05" y="178.8" width="1.1" height="3.8" fill="#ff0000"/><rect x="375.60" y="172.9" width="0.8" height="9.7" fill="#008000"/><rect x="375.45" y="179.6" width="1.1" height="3.0" fill="#008000"/><rect x="377.00" y="166.4" width="0.8" height="13.2" fill="#008000"/><rect x="376.85" y="173.7" width="1.1" height="5.8" fill="#008000"/><rect x="378.40" y="158.5" width="0.8" height="15.2" fill="#008000"/><rect x="378.25" y="163.6" width="1.1" height="10.1" fill="#008000"/><rect x="379.80" y="152.3" width="0.8" height="12.2" fill="#008000"/><rect x="379.65" y="155.4" width="1.1" height="8.2" fill="#008000"/><rect x="381.20" y="137.8" width="0.8" height="23.0" fill="#008000"/><rect x="381.05" y="145.5" width="1.1" height="10.0" fill="#008000"/><rect x="382.60" y="115.0" width="0.8" height="30.5" fill="#008000"/><rect x="382.45" y="127.9" width="1.1" height="17.6" fill="#008000"/><rect x="384.00" y="117.8" width="0.8" height="17.3" fill="#ff0000"/><rect x="383.85" y="127.9" width="1.1" height="2.2" fill="#ff0000"/><rect x="385.40" y="111.0" width="0.8" height="19.9" fill="#008000"/><rect x="385.25" y="116.1" width="1.1" height="14.0" fill="#008000"/><rect x="386.80" y="116.1" width="0.8" height="18.6" fill="#ff0000"/><rect x="386.65" y="116.1" width="1.1" height="11.8" fill="#ff0000"/><rect x="388.20" y="125.2" width="0.8" height="15.1" fill="#ff0000"/><rect x="388.05" y="127.8" width="1.1" height="3.9" fill="#ff0000"/><rect x="389.60" y="122.9" width="0.8" height="12.7" fill="#ff0000"/><rect x="389.45" y="131.1" width="1.1" height="1.5" fill="#ff0000"/><rect x="391.00" y="118.2" width="0.8" height="13.8" fill="#008000"/><rect x="390.85" y="119.1" width="1.1" height="12.9" fill="#008000"/><rect x="392.40" y="111.2" width="0.8" height="12.5" fill="#008000"/><rect x="392.25" y="118.3" width="1.1" height="1.5" fill="#008000"/><rect x="393.80" y="108.0" width="0.8" height="18.0" fill="#008000"/><rect x="393.65" y="113.2" width="1.1" height="5.8" fill="#008000"/><rect x="395.20" y="107.0" width="0.8" height="16.0" fill="#008000"/><rect x="395.05" y="108.1" width="1.1" height="5.1" fill="#008000"/><rect x="396.60" y="104.6" width="0.8" height="15.9" fill="#ff0000"/><rect x="396.45" y="108.1" width="1.1" height="3.7" fill="#ff0000"/><rect x="398.00" y="108.8" width="0.8" height="15.9" fill="#ff0000"/><rect x="397.85" y="111.8" width="1.1" height="6.7" fill="#ff0000"/><rect x="399.40" y="117.3" width="0.8" height="14.8" fill="#ff0000"/><rect x="399.25" y="118.6" width="1.1" height="5.6" fill="#ff0000"/><rect x="400.80" y="115.2" width="0.8" height="13.6" fill="#008000"/><rect x="400.65" y="121.7" width="1.1" height="2.4" fill="#008000"/><rect x="402.20" y="113.8" width="0.8" height="20.5" fill="#ff0000"/><rect x="402.05" y="121.7" width="1.1" height="8.9" fill="#ff0000"/><rect x="403.60" y="120.7" width="0.8" height="13.1" fill="#008000"/><rect x="403.45" y="124.8" width="1.1" height="5.8" fill="#008000"/><rect x="405.00" y="124.8" width="0.8" height="17.9" fill="#ff0000"/><rect x="404.85" y="124.8" width="1.1" height="11.3" fill="#ff0000"/><rect x="406.40" y="126.5" width="0.8" height="14.8" fill="#ff0000"/><rect x="406.25" y="136.0" width="1.1" height="1.5" fill="#ff0000"/><rect x="407.80" y="127.8" width="0.8" height="13.0" fill="#008000"/><rect x="407.65" y="135.3" width="1.1" height="2.1" fill="#008000"/><polyline points="3,229.9 19.3,240.8 41.6,216.7 65.6,271.4" fill="none" stroke="#b84848" stroke-width="1.1" stroke-dasharray="3.5,3.3"/><polyline points="334.5,166 353,208.7 394,89.5 423.8,155 531.5,38.5" fill="none" stroke="#b84848" stroke-width="1.1" stroke-dasharray="3.5,3.3"/><polyline points="3.3,221 67.5,278" fill="none" stroke="#3a9a3a" stroke-width="1.1" stroke-dasharray="3.5,3.3"/><polyline points="122,190 269.5,238.6 530,28 576,37" fill="none" stroke="#3a9a3a" stroke-width="1.1" stroke-dasharray="3.5,3.3"/><text transform="translate(36.95,207.20000000000002) scale(0.9875,1)" font-family="Liberation Sans, sans-serif" font-size="16" fill="#a83a30" >4</text><text transform="translate(12.25,262.0) scale(0.9441,1)" font-family="Liberation Sans, sans-serif" font-size="16" fill="#a83a30" >3</text><text transform="translate(64.44,289.90000000000003) scale(0.8026,1)" font-family="Liberation Sans, sans-serif" font-size="16" fill="#a83a30" >5</text><text transform="translate(331.56,150.3) scale(0.7413,1)" font-family="Liberation Sans, sans-serif" font-size="16" fill="#a83a30" >1</text><text transform="translate(348.22,229.70000000000002) scale(0.9066,1)" font-family="Liberation Sans, sans-serif" font-size="16" fill="#a83a30" >2</text><text transform="translate(389.17,81.7) scale(0.9043,1)" font-family="Liberation Sans, sans-serif" font-size="16" fill="#a83a30" >3</text><text transform="translate(418.69,175.60000000000002) scale(0.8875,1)" font-family="Liberation Sans, sans-serif" font-size="16" fill="#a83a30" >4</text><text transform="translate(528.10,28.8) scale(0.8553,1)" font-family="Liberation Sans, sans-serif" font-size="16" fill="#a83a30" >5</text><text transform="translate(109.75,181.6) scale(1.0909,1)" font-family="Liberation Sans, sans-serif" font-size="16" fill="#e0b000" opacity="0.6" stroke="#ffb6c1" stroke-width="0.0">(1)</text><text transform="translate(110.85,181.6) scale(1.0909,1)" font-family="Liberation Sans, sans-serif" font-size="16" fill="#40c8d8" opacity="0.35" stroke="#ffb6c1" stroke-width="0.0">(1)</text><text transform="translate(110.35,181.6) scale(1.0909,1)" font-family="Liberation Sans, sans-serif" font-size="16" fill="#208a30" stroke="#ffb6c1" stroke-width="0.3">(1)</text><text transform="translate(256.26,259.0) scale(1.0852,1)" font-family="Liberation Sans, sans-serif" font-size="16" fill="#e0b000" opacity="0.6" stroke="#f3f3f3" stroke-width="0.0">(2)</text><text transform="translate(257.36,259.0) scale(1.0852,1)" font-family="Liberation Sans, sans-serif" font-size="16" fill="#40c8d8" opacity="0.35" stroke="#f3f3f3" stroke-width="0.0">(2)</text><text transform="translate(256.86,259.0) scale(1.0852,1)" font-family="Liberation Sans, sans-serif" font-size="16" fill="#208a30" stroke="#f3f3f3" stroke-width="0.3">(2)</text><text transform="translate(518.87,17.6) scale(1.0682,1)" font-family="Liberation Sans, sans-serif" font-size="16" fill="#e0b000" opacity="0.6" stroke="#f3f3f3" stroke-width="0.0">(3)</text><text transform="translate(519.97,17.6) scale(1.0682,1)" font-family="Liberation Sans, sans-serif" font-size="16" fill="#40c8d8" opacity="0.35" stroke="#f3f3f3" stroke-width="0.0">(3)</text><text transform="translate(519.47,17.6) scale(1.0682,1)" font-family="Liberation Sans, sans-serif" font-size="16" fill="#208a30" stroke="#f3f3f3" stroke-width="0.3">(3)</text><text transform="translate(59.88,301.1) scale(0.9536,1)" font-family="Liberation Sans, sans-serif" font-size="16" fill="#e0b000" opacity="0.6" stroke="#f3f3f3" stroke-width="0.0">(C)</text><text transform="translate(60.98,301.1) scale(0.9536,1)" font-family="Liberation Sans, sans-serif" font-size="16" fill="#40c8d8" opacity="0.35" stroke="#f3f3f3" stroke-width="0.0">(C)</text><text transform="translate(60.48,301.1) scale(0.9536,1)" font-family="Liberation Sans, sans-serif" font-size="16" fill="#208a30" stroke="#f3f3f3" stroke-width="0.3">(C)</text><circle cx="70.5" cy="314.5" r="8.7" fill="none" stroke="#5a20a0" stroke-width="1.1"/><text transform="translate(65.25,320.5) scale(1.2857,1)" font-family="Liberation Sans, sans-serif" font-size="14" fill="#4a1898" stroke="#f3f3f3" stroke-width="0.0">4</text><text transform="translate(559.04,33.8) scale(0.9957,1)" font-family="Liberation Sans, sans-serif" font-size="11.5" fill="#5e22a0"  stroke="#5e22a0" stroke-width="0.1">0.0</text><text transform="translate(551.39,142.5) scale(1.0576,1)" font-family="Liberation Sans, sans-serif" font-size="11.5" fill="#5e22a0"  stroke="#5e22a0" stroke-width="0.1">23.6</text><text transform="translate(551.51,209.3) scale(1.0547,1)" font-family="Liberation Sans, sans-serif" font-size="11.5" fill="#5e22a0"  stroke="#5e22a0" stroke-width="0.1">38.2</text><text transform="translate(551.52,263.1) scale(1.0491,1)" font-family="Liberation Sans, sans-serif" font-size="11.5" fill="#5e22a0"  stroke="#5e22a0" stroke-width="0.1">50.0</text><text transform="translate(551.39,317.5) scale(1.0547,1)" font-family="Liberation Sans, sans-serif" font-size="11.5" fill="#5e22a0"  stroke="#5e22a0" stroke-width="0.1">61.8</text><rect x="2.5" y="2.5" width="574" height="367" fill="none" stroke="#000" stroke-width="1"/><rect x="2.5" y="371.5" width="574" height="64" fill="none" stroke="#000" stroke-width="1"/><line x1="577" y1="18.5" x2="580" y2="18.5" stroke="#000" stroke-width="1"/><text transform="translate(581.12,22.6) scale(1.0186,1)" font-family="Liberation Sans, sans-serif" font-size="11.5" fill="#000"  stroke="#000" stroke-width="0.2">1.49320</text><line x1="577" y1="47.5" x2="580" y2="47.5" stroke="#000" stroke-width="1"/><text transform="translate(581.12,51.87) scale(1.0186,1)" font-family="Liberation Sans, sans-serif" font-size="11.5" fill="#000"  stroke="#000" stroke-width="0.2">1.45945</text><line x1="577" y1="77.5" x2="580" y2="77.5" stroke="#000" stroke-width="1"/><text transform="translate(581.12,81.13999999999999) scale(1.0186,1)" font-family="Liberation Sans, sans-serif" font-size="11.5" fill="#000"  stroke="#000" stroke-width="0.2">1.42570</text><line x1="577" y1="106.5" x2="580" y2="106.5" stroke="#000" stroke-width="1"/><text transform="translate(581.12,110.41) scale(1.0186,1)" font-family="Liberation Sans, sans-serif" font-size="11.5" fill="#000"  stroke="#000" stroke-width="0.2">1.39195</text><line x1="577" y1="135.5" x2="580" y2="135.5" stroke="#000" stroke-width="1"/><text transform="translate(581.12,139.67999999999998) scale(1.0186,1)" font-family="Liberation Sans, sans-serif" font-size="11.5" fill="#000"  stroke="#000" stroke-width="0.2">1.35820</text><line x1="577" y1="164.5" x2="580" y2="164.5" stroke="#000" stroke-width="1"/><text transform="translate(581.12,168.95) scale(1.0186,1)" font-family="Liberation Sans, sans-serif" font-size="11.5" fill="#000"  stroke="#000" stroke-width="0.2">1.32445</text><line x1="577" y1="194.5" x2="580" y2="194.5" stroke="#000" stroke-width="1"/><text transform="translate(581.12,198.22) scale(1.0186,1)" font-family="Liberation Sans, sans-serif" font-size="11.5" fill="#000"  stroke="#000" stroke-width="0.2">1.29070</text><line x1="577" y1="223.5" x2="580" y2="223.5" stroke="#000" stroke-width="1"/><text transform="translate(581.12,227.48999999999998) scale(1.0186,1)" font-family="Liberation Sans, sans-serif" font-size="11.5" fill="#000"  stroke="#000" stroke-width="0.2">1.25695</text><line x1="577" y1="252.5" x2="580" y2="252.5" stroke="#000" stroke-width="1"/><text transform="translate(581.12,256.76) scale(1.0186,1)" font-family="Liberation Sans, sans-serif" font-size="11.5" fill="#000"  stroke="#000" stroke-width="0.2">1.22320</text><line x1="577" y1="281.5" x2="580" y2="281.5" stroke="#000" stroke-width="1"/><text transform="translate(581.12,286.03000000000003) scale(1.0186,1)" font-family="Liberation Sans, sans-serif" font-size="11.5" fill="#000"  stroke="#000" stroke-width="0.2">1.18945</text><line x1="577" y1="311.5" x2="580" y2="311.5" stroke="#000" stroke-width="1"/><text transform="translate(581.12,315.3) scale(1.0186,1)" font-family="Liberation Sans, sans-serif" font-size="11.5" fill="#000"  stroke="#000" stroke-width="0.2">1.15570</text><line x1="577" y1="340.5" x2="580" y2="340.5" stroke="#000" stroke-width="1"/><text transform="translate(581.12,344.57) scale(1.0186,1)" font-family="Liberation Sans, sans-serif" font-size="11.5" fill="#000"  stroke="#000" stroke-width="0.2">1.12195</text><rect x="579" y="49.3" width="49" height="12.7" fill="#0000ff"/><text transform="translate(582.12,60.05) scale(1.0186,1)" font-family="Liberation Sans, sans-serif" font-size="11.5" fill="#fff"  stroke="#fff" stroke-width="0.13999999999999999">1.45000</text><rect x="579" y="66.6" width="49" height="12.4" fill="#0000ff"/><text transform="translate(582.12,77.2) scale(1.0186,1)" font-family="Liberation Sans, sans-serif" font-size="11.5" fill="#fff"  stroke="#fff" stroke-width="0.13999999999999999">1.43000</text><rect x="579" y="124.3" width="49" height="12.2" fill="#c0c0c0"/><text transform="translate(582.12,134.8) scale(1.0201,1)" font-family="Liberation Sans, sans-serif" font-size="11.5" fill="#f0f0f0"  stroke="#f0f0f0" stroke-width="0.13999999999999999">1.36386</text><rect x="579" y="148.9" width="49" height="12.6" fill="#ff0000"/><text transform="translate(582.12,159.6) scale(1.0186,1)" font-family="Liberation Sans, sans-serif" font-size="11.5" fill="#fff"  stroke="#fff" stroke-width="0.13999999999999999">1.33468</text><rect x="579" y="161.5" width="49" height="12.8" fill="#0000ff"/><text transform="translate(582.12,172.3) scale(1.0186,1)" font-family="Liberation Sans, sans-serif" font-size="11.5" fill="#fff"  stroke="#fff" stroke-width="0.13999999999999999">1.32060</text><rect x="579" y="183.9" width="49" height="12.3" fill="#0000ff"/><text transform="translate(582.12,194.45000000000002) scale(1.0216,1)" font-family="Liberation Sans, sans-serif" font-size="11.5" fill="#fff"  stroke="#fff" stroke-width="0.13999999999999999">1.29531</text><text transform="translate(5.97,14.5) scale(0.9090,1)" font-family="Liberation Sans, sans-serif" font-size="11.5" fill="#1a1a1a" xml:space="preserve" stroke="#1a1a1a" stroke-width="0.2">USDCAD, Daily:  US Dollar vs Canadian Dollar</text><line x1="3" y1="390.5" x2="576" y2="390.5" stroke="#c4c4c4" stroke-width="1" stroke-dasharray="3,2.5"/><line x1="3" y1="416.5" x2="576" y2="416.5" stroke="#c4c4c4" stroke-width="1" stroke-dasharray="3,2.5"/><rect x="3" y="409.5" width="1" height="10.1" fill="#800080"/><rect x="4" y="409.5" width="1" height="8.8" fill="#800080"/><rect x="5" y="409.5" width="1" height="7.2" fill="#800080"/><rect x="6" y="409.5" width="1" height="6.3" fill="#800080"/><rect x="7" y="409.5" width="1" height="5.1" fill="#800080"/><rect x="8" y="409.5" width="1" height="4.7" fill="#800080"/><rect x="9" y="409.5" width="1" height="4.3" fill="#800080"/><rect x="10" y="409.5" width="1" height="4.2" fill="#800080"/><rect x="11" y="409.5" width="1" height="4.0" fill="#800080"/><rect x="12" y="409.5" width="1" height="3.4" fill="#800080"/><rect x="13" y="409.5" width="1" height="3.0" fill="#800080"/><rect x="14" y="409.5" width="1" height="4.6" fill="#800080"/><rect x="15" y="409.5" width="1" height="6.1" fill="#800080"/><rect x="16" y="409.5" width="1" height="7.7" fill="#800080"/><rect x="17" y="409.5" width="1" height="9.8" fill="#800080"/><rect x="18" y="409.5" width="1" height="11.1" fill="#800080"/><rect x="19" y="409.5" width="1" height="12.9" fill="#800080"/><rect x="20" y="409.5" width="1" height="11.1" fill="#800080"/><rect x="21" y="409.5" width="1" height="9.1" fill="#800080"/><rect x="22" y="409.5" width="1" height="7.4" fill="#800080"/><rect x="23" y="409.5" width="1" height="5.9" fill="#800080"/><rect x="24" y="409.5" width="1" height="5.4" fill="#800080"/><rect x="25" y="409.5" width="1" height="4.8" fill="#800080"/><rect x="26" y="409.5" width="1" height="3.8" fill="#800080"/><rect x="27" y="409.5" width="1" height="3.5" fill="#800080"/><rect x="28" y="409.5" width="1" height="3.6" fill="#800080"/><rect x="29" y="409.5" width="1" height="3.0" fill="#800080"/><rect x="30" y="409.5" width="1" height="2.5" fill="#800080"/><rect x="31" y="409.5" width="1" height="2.5" fill="#800080"/><rect x="32" y="409.5" width="1" height="3.1" fill="#800080"/><rect x="33" y="409.5" width="1" height="2.5" fill="#800080"/><rect x="34" y="409.5" width="1" height="2.8" fill="#800080"/><rect x="35" y="409.5" width="1" height="2.6" fill="#800080"/><rect x="36" y="409.5" width="1" height="2.8" fill="#800080"/><rect x="37" y="409.5" width="1" height="3.3" fill="#800080"/><rect x="38" y="409.5" width="1" height="3.5" fill="#800080"/><rect x="39" y="409.5" width="1" height="3.2" fill="#800080"/><rect x="40" y="409.5" width="1" height="3.2" fill="#800080"/><rect x="41" y="409.5" width="1" height="4.0" fill="#800080"/><rect x="42" y="409.5" width="1" height="4.0" fill="#800080"/><rect x="43" y="409.5" width="1" height="4.3" fill="#800080"/><rect x="44" y="409.5" width="1" height="5.9" fill="#800080"/><rect x="45" y="409.5" width="1" height="6.4" fill="#800080"/><rect x="46" y="409.5" width="1" height="7.7" fill="#800080"/><rect x="47" y="409.5" width="1" height="8.9" fill="#800080"/><rect x="48" y="409.5" width="1" height="10.8" fill="#800080"/><rect x="49" y="409.5" width="1" height="12.0" fill="#800080"/><rect x="50" y="409.5" width="1" height="13.3" fill="#800080"/><rect x="51" y="409.5" width="1" height="14.7" fill="#800080"/><rect x="52" y="409.5" width="1" height="16.7" fill="#800080"/><rect x="53" y="409.5" width="1" height="18.5" fill="#800080"/><rect x="54" y="409.5" width="1" height="20.3" fill="#800080"/><rect x="55" y="409.5" width="1" height="19.0" fill="#800080"/><rect x="56" y="409.5" width="1" height="18.8" fill="#800080"/><rect x="57" y="409.5" width="1" height="17.9" fill="#800080"/><rect x="58" y="409.5" width="1" height="17.6" fill="#800080"/><rect x="59" y="409.5" width="1" height="16.9" fill="#800080"/><rect x="60" y="409.5" width="1" height="16.5" fill="#800080"/><rect x="61" y="409.5" width="1" height="16.1" fill="#800080"/><rect x="62" y="409.5" width="1" height="15.7" fill="#800080"/><rect x="63" y="409.5" width="1" height="14.4" fill="#800080"/><rect x="64" y="409.5" width="1" height="14.0" fill="#800080"/><rect x="65" y="409.5" width="1" height="13.6" fill="#800080"/><rect x="66" y="409.5" width="1" height="13.1" fill="#800080"/><rect x="67" y="409.5" width="1" height="11.6" fill="#800080"/><rect x="68" y="409.5" width="1" height="10.6" fill="#800080"/><rect x="69" y="409.5" width="1" height="10.4" fill="#800080"/><rect x="70" y="409.5" width="1" height="9.5" fill="#800080"/><rect x="71" y="409.5" width="1" height="8.3" fill="#800080"/><rect x="72" y="409.5" width="1" height="7.0" fill="#800080"/><rect x="73" y="409.5" width="1" height="6.8" fill="#800080"/><rect x="74" y="409.5" width="1" height="5.5" fill="#800080"/><rect x="75" y="409.5" width="1" height="5.0" fill="#800080"/><rect x="76" y="409.5" width="1" height="3.1" fill="#800080"/><rect x="77" y="409.5" width="1" height="1.7" fill="#800080"/><rect x="78" y="409.3" width="1" height="0.5" fill="#800080"/><rect x="79" y="405.2" width="1" height="4.3" fill="#800080"/><rect x="80" y="400.8" width="1" height="8.7" fill="#800080"/><rect x="81" y="401.4" width="1" height="8.1" fill="#800080"/><rect x="82" y="402.3" width="1" height="7.2" fill="#800080"/><rect x="83" y="402.2" width="1" height="7.3" fill="#800080"/><rect x="84" y="401.6" width="1" height="7.9" fill="#800080"/><rect x="85" y="401.3" width="1" height="8.2" fill="#800080"/><rect x="86" y="401.1" width="1" height="8.4" fill="#800080"/><rect x="87" y="401.6" width="1" height="7.9" fill="#800080"/><rect x="88" y="401.8" width="1" height="7.7" fill="#800080"/><rect x="89" y="400.6" width="1" height="8.9" fill="#800080"/><rect x="90" y="399.8" width="1" height="9.7" fill="#800080"/><rect x="91" y="400.2" width="1" height="9.3" fill="#800080"/><rect x="92" y="400.3" width="1" height="9.2" fill="#800080"/><rect x="93" y="399.3" width="1" height="10.2" fill="#800080"/><rect x="94" y="399.3" width="1" height="10.2" fill="#800080"/><rect x="95" y="399.2" width="1" height="10.3" fill="#800080"/><rect x="96" y="398.2" width="1" height="11.3" fill="#800080"/><rect x="97" y="397.6" width="1" height="11.9" fill="#800080"/><rect x="98" y="395.7" width="1" height="13.8" fill="#800080"/><rect x="99" y="394.7" width="1" height="14.8" fill="#800080"/><rect x="100" y="393.3" width="1" height="16.2" fill="#800080"/><rect x="101" y="394.8" width="1" height="14.7" fill="#800080"/><rect x="102" y="395.8" width="1" height="13.7" fill="#800080"/><rect x="103" y="397.9" width="1" height="11.6" fill="#800080"/><rect x="104" y="400.1" width="1" height="9.4" fill="#800080"/><rect x="105" y="402.2" width="1" height="7.3" fill="#800080"/><rect x="106" y="404.7" width="1" height="4.8" fill="#800080"/><rect x="107" y="404.6" width="1" height="4.9" fill="#800080"/><rect x="108" y="404.6" width="1" height="4.9" fill="#800080"/><rect x="109" y="404.2" width="1" height="5.3" fill="#800080"/><rect x="110" y="404.7" width="1" height="4.8" fill="#800080"/><rect x="111" y="404.8" width="1" height="4.7" fill="#800080"/><rect x="112" y="404.8" width="1" height="4.7" fill="#800080"/><rect x="113" y="405.4" width="1" height="4.1" fill="#800080"/><rect x="114" y="405.4" width="1" height="4.1" fill="#800080"/><rect x="115" y="405.2" width="1" height="4.3" fill="#800080"/><rect x="116" y="404.9" width="1" height="4.6" fill="#800080"/><rect x="117" y="404.5" width="1" height="5.0" fill="#800080"/><rect x="118" y="403.6" width="1" height="5.9" fill="#800080"/><rect x="119" y="401.0" width="1" height="8.5" fill="#800080"/><rect x="120" y="398.5" width="1" height="11.0" fill="#800080"/><rect x="121" y="397.6" width="1" height="11.9" fill="#800080"/><rect x="122" y="397.3" width="1" height="12.2" fill="#800080"/><rect x="123" y="398.7" width="1" height="10.8" fill="#800080"/><rect x="124" y="399.6" width="1" height="9.9" fill="#800080"/><rect x="125" y="401.7" width="1" height="7.8" fill="#800080"/><rect x="126" y="402.9" width="1" height="6.6" fill="#800080"/><rect x="127" y="403.7" width="1" height="5.8" fill="#800080"/><rect x="128" y="404.1" width="1" height="5.4" fill="#800080"/><rect x="129" y="405.3" width="1" height="4.2" fill="#800080"/><rect x="130" y="406.2" width="1" height="3.3" fill="#800080"/><rect x="131" y="409.2" width="1" height="0.5" fill="#800080"/><rect x="132" y="407.8" width="1" height="1.7" fill="#800080"/><rect x="133" y="407.0" width="1" height="2.5" fill="#800080"/><rect x="134" y="405.3" width="1" height="4.2" fill="#800080"/><rect x="135" y="404.9" width="1" height="4.6" fill="#800080"/><rect x="136" y="404.0" width="1" height="5.5" fill="#800080"/><rect x="137" y="402.8" width="1" height="6.7" fill="#800080"/><rect x="138" y="402.2" width="1" height="7.3" fill="#800080"/><rect x="139" y="401.0" width="1" height="8.5" fill="#800080"/><rect x="140" y="401.0" width="1" height="8.5" fill="#800080"/><rect x="141" y="400.0" width="1" height="9.5" fill="#800080"/><rect x="142" y="401.0" width="1" height="8.5" fill="#800080"/><rect x="143" y="401.5" width="1" height="8.0" fill="#800080"/><rect x="144" y="402.9" width="1" height="6.6" fill="#800080"/><rect x="145" y="405.4" width="1" height="4.1" fill="#800080"/><rect x="146" y="406.9" width="1" height="2.6" fill="#800080"/><rect x="147" y="407.6" width="1" height="1.9" fill="#800080"/><rect x="148" y="408.4" width="1" height="1.1" fill="#800080"/><rect x="149" y="409.4" width="1" height="0.5" fill="#800080"/><rect x="150" y="409.5" width="1" height="0.8" fill="#800080"/><rect x="151" y="409.5" width="1" height="2.7" fill="#800080"/><rect x="152" y="409.5" width="1" height="3.5" fill="#800080"/><rect x="153" y="409.5" width="1" height="5.3" fill="#800080"/><rect x="154" y="409.5" width="1" height="6.1" fill="#800080"/><rect x="155" y="409.5" width="1" height="7.7" fill="#800080"/><rect x="156" y="409.5" width="1" height="9.3" fill="#800080"/><rect x="157" y="409.5" width="1" height="10.1" fill="#800080"/><rect x="158" y="409.5" width="1" height="11.5" fill="#800080"/><rect x="159" y="409.5" width="1" height="13.0" fill="#800080"/><rect x="160" y="409.5" width="1" height="13.5" fill="#800080"/><rect x="161" y="409.5" width="1" height="13.9" fill="#800080"/><rect x="162" y="409.5" width="1" height="13.4" fill="#800080"/><rect x="163" y="409.5" width="1" height="12.7" fill="#800080"/><rect x="164" y="409.5" width="1" height="12.0" fill="#800080"/><rect x="165" y="409.5" width="1" height="10.4" fill="#800080"/><rect x="166" y="409.5" width="1" height="8.0" fill="#800080"/><rect x="167" y="409.5" width="1" height="6.1" fill="#800080"/><rect x="168" y="409.5" width="1" height="5.2" fill="#800080"/><rect x="169" y="409.5" width="1" height="4.0" fill="#800080"/><rect x="170" y="409.5" width="1" height="3.7" fill="#800080"/><rect x="171" y="409.5" width="1" height="3.2" fill="#800080"/><rect x="172" y="409.5" width="1" height="2.3" fill="#800080"/><rect x="173" y="409.5" width="1" height="2.0" fill="#800080"/><rect x="174" y="409.5" width="1" height="1.0" fill="#800080"/><rect x="175" y="409.5" width="1" height="0.5" fill="#800080"/><rect x="176" y="408.9" width="1" height="0.6" fill="#800080"/><rect x="177" y="406.9" width="1" height="2.6" fill="#800080"/><rect x="178" y="406.3" width="1" height="3.2" fill="#800080"/><rect x="179" y="405.0" width="1" height="4.5" fill="#800080"/><rect x="180" y="403.8" width="1" height="5.7" fill="#800080"/><rect x="181" y="402.8" width="1" height="6.7" fill="#800080"/><rect x="182" y="401.0" width="1" height="8.5" fill="#800080"/><rect x="183" y="400.6" width="1" height="8.9" fill="#800080"/><rect x="184" y="399.4" width="1" height="10.1" fill="#800080"/><rect x="185" y="398.2" width="1" height="11.3" fill="#800080"/><rect x="186" y="397.5" width="1" height="12.0" fill="#800080"/><rect x="187" y="396.6" width="1" height="12.9" fill="#800080"/><rect x="188" y="395.6" width="1" height="13.9" fill="#800080"/><rect x="189" y="395.7" width="1" height="13.8" fill="#800080"/><rect x="190" y="396.0" width="1" height="13.5" fill="#800080"/><rect x="191" y="398.9" width="1" height="10.6" fill="#800080"/><rect x="192" y="399.7" width="1" height="9.8" fill="#800080"/><rect x="193" y="401.3" width="1" height="8.2" fill="#800080"/><rect x="194" y="400.3" width="1" height="9.2" fill="#800080"/><rect x="195" y="398.7" width="1" height="10.8" fill="#800080"/><rect x="196" y="397.7" width="1" height="11.8" fill="#800080"/><rect x="197" y="396.5" width="1" height="13.0" fill="#800080"/><rect x="198" y="396.6" width="1" height="12.9" fill="#800080"/><rect x="199" y="396.9" width="1" height="12.6" fill="#800080"/><rect x="200" y="398.0" width="1" height="11.5" fill="#800080"/><rect x="201" y="399.4" width="1" height="10.1" fill="#800080"/><rect x="202" y="400.2" width="1" height="9.3" fill="#800080"/><rect x="203" y="401.2" width="1" height="8.3" fill="#800080"/><rect x="204" y="402.9" width="1" height="6.6" fill="#800080"/><rect x="205" y="403.6" width="1" height="5.9" fill="#800080"/><rect x="206" y="405.7" width="1" height="3.8" fill="#800080"/><rect x="207" y="408.0" width="1" height="1.5" fill="#800080"/><rect x="208" y="409.5" width="1" height="0.5" fill="#800080"/><rect x="209" y="409.5" width="1" height="1.0" fill="#800080"/><rect x="210" y="409.5" width="1" height="2.3" fill="#800080"/><rect x="211" y="409.5" width="1" height="2.7" fill="#800080"/><rect x="212" y="409.5" width="1" height="3.6" fill="#800080"/><rect x="213" y="409.5" width="1" height="4.8" fill="#800080"/><rect x="214" y="409.5" width="1" height="6.5" fill="#800080"/><rect x="215" y="409.5" width="1" height="7.1" fill="#800080"/><rect x="216" y="409.5" width="1" height="7.5" fill="#800080"/><rect x="217" y="409.5" width="1" height="8.8" fill="#800080"/><rect x="218" y="409.5" width="1" height="9.7" fill="#800080"/><rect x="219" y="409.5" width="1" height="10.1" fill="#800080"/><rect x="220" y="409.5" width="1" height="11.3" fill="#800080"/><rect x="221" y="409.5" width="1" height="9.1" fill="#800080"/><rect x="222" y="409.5" width="1" height="7.4" fill="#800080"/><rect x="223" y="409.5" width="1" height="5.4" fill="#800080"/><rect x="224" y="409.5" width="1" height="3.8" fill="#800080"/><rect x="225" y="409.5" width="1" height="0.7" fill="#800080"/><rect x="226" y="407.4" width="1" height="2.1" fill="#800080"/><rect x="227" y="407.1" width="1" height="2.4" fill="#800080"/><rect x="228" y="407.0" width="1" height="2.5" fill="#800080"/><rect x="229" y="406.8" width="1" height="2.7" fill="#800080"/><rect x="230" y="407.3" width="1" height="2.2" fill="#800080"/><rect x="231" y="407.2" width="1" height="2.3" fill="#800080"/><rect x="232" y="407.1" width="1" height="2.4" fill="#800080"/><rect x="233" y="407.3" width="1" height="2.2" fill="#800080"/><rect x="234" y="407.2" width="1" height="2.3" fill="#800080"/><rect x="235" y="407.5" width="1" height="2.0" fill="#800080"/><rect x="236" y="407.3" width="1" height="2.2" fill="#800080"/><rect x="237" y="406.8" width="1" height="2.7" fill="#800080"/><rect x="238" y="407.2" width="1" height="2.3" fill="#800080"/><rect x="239" y="406.4" width="1" height="3.1" fill="#800080"/><rect x="240" y="406.6" width="1" height="2.9" fill="#800080"/><rect x="241" y="406.2" width="1" height="3.3" fill="#800080"/><rect x="242" y="405.7" width="1" height="3.8" fill="#800080"/><rect x="243" y="405.9" width="1" height="3.6" fill="#800080"/><rect x="244" y="406.8" width="1" height="2.7" fill="#800080"/><rect x="245" y="407.2" width="1" height="2.3" fill="#800080"/><rect x="246" y="408.6" width="1" height="0.9" fill="#800080"/><rect x="247" y="409.5" width="1" height="0.8" fill="#800080"/><rect x="248" y="409.5" width="1" height="0.7" fill="#800080"/><rect x="249" y="407.7" width="1" height="1.8" fill="#800080"/><rect x="250" y="406.0" width="1" height="3.5" fill="#800080"/><rect x="251" y="403.9" width="1" height="5.6" fill="#800080"/><rect x="252" y="404.4" width="1" height="5.1" fill="#800080"/><rect x="253" y="404.9" width="1" height="4.6" fill="#800080"/><rect x="254" y="405.3" width="1" height="4.2" fill="#800080"/><rect x="255" y="406.4" width="1" height="3.1" fill="#800080"/><rect x="256" y="407.7" width="1" height="1.8" fill="#800080"/><rect x="257" y="408.8" width="1" height="0.7" fill="#800080"/><rect x="258" y="409.5" width="1" height="2.0" fill="#800080"/><rect x="259" y="409.5" width="1" height="3.9" fill="#800080"/><rect x="260" y="409.5" width="1" height="5.5" fill="#800080"/><rect x="261" y="409.5" width="1" height="6.6" fill="#800080"/><rect x="262" y="409.5" width="1" height="8.9" fill="#800080"/><rect x="263" y="409.5" width="1" height="10.5" fill="#800080"/><rect x="264" y="409.5" width="1" height="11.0" fill="#800080"/><rect x="265" y="409.5" width="1" height="11.9" fill="#800080"/><rect x="266" y="409.5" width="1" height="11.7" fill="#800080"/><rect x="267" y="409.5" width="1" height="11.5" fill="#800080"/><rect x="268" y="409.5" width="1" height="10.7" fill="#800080"/><rect x="269" y="409.5" width="1" height="10.1" fill="#800080"/><rect x="270" y="409.5" width="1" height="8.3" fill="#800080"/><rect x="271" y="409.5" width="1" height="6.9" fill="#800080"/><rect x="272" y="409.5" width="1" height="5.5" fill="#800080"/><rect x="273" y="409.5" width="1" height="3.9" fill="#800080"/><rect x="274" y="409.5" width="1" height="3.0" fill="#800080"/><rect x="275" y="409.5" width="1" height="1.9" fill="#800080"/><rect x="276" y="409.5" width="1" height="1.2" fill="#800080"/><rect x="277" y="409.5" width="1" height="1.0" fill="#800080"/><rect x="278" y="409.5" width="1" height="0.9" fill="#800080"/><rect x="279" y="409.5" width="1" height="1.2" fill="#800080"/><rect x="280" y="409.2" width="1" height="0.5" fill="#800080"/><rect x="281" y="406.4" width="1" height="3.1" fill="#800080"/><rect x="282" y="404.0" width="1" height="5.5" fill="#800080"/><rect x="283" y="402.3" width="1" height="7.2" fill="#800080"/><rect x="284" y="399.7" width="1" height="9.8" fill="#800080"/><rect x="285" y="398.9" width="1" height="10.6" fill="#800080"/><rect x="286" y="396.9" width="1" height="12.6" fill="#800080"/><rect x="287" y="395.8" width="1" height="13.7" fill="#800080"/><rect x="288" y="394.4" width="1" height="15.1" fill="#800080"/><rect x="289" y="393.8" width="1" height="15.7" fill="#800080"/><rect x="290" y="393.0" width="1" height="16.5" fill="#800080"/><rect x="291" y="393.1" width="1" height="16.4" fill="#800080"/><rect x="292" y="393.2" width="1" height="16.3" fill="#800080"/><rect x="293" y="393.6" width="1" height="15.9" fill="#800080"/><rect x="294" y="394.5" width="1" height="15.0" fill="#800080"/><rect x="295" y="397.1" width="1" height="12.4" fill="#800080"/><rect x="296" y="399.3" width="1" height="10.2" fill="#800080"/><rect x="297" y="400.7" width="1" height="8.8" fill="#800080"/><rect x="298" y="402.1" width="1" height="7.4" fill="#800080"/><rect x="299" y="403.3" width="1" height="6.2" fill="#800080"/><rect x="300" y="404.6" width="1" height="4.9" fill="#800080"/><rect x="301" y="405.2" width="1" height="4.3" fill="#800080"/><rect x="302" y="406.8" width="1" height="2.7" fill="#800080"/><rect x="303" y="408.1" width="1" height="1.4" fill="#800080"/><rect x="304" y="409.5" width="1" height="0.7" fill="#800080"/><rect x="305" y="409.5" width="1" height="2.0" fill="#800080"/><rect x="306" y="409.5" width="1" height="3.9" fill="#800080"/><rect x="307" y="409.5" width="1" height="5.4" fill="#800080"/><rect x="308" y="409.5" width="1" height="6.8" fill="#800080"/><rect x="309" y="409.5" width="1" height="8.4" fill="#800080"/><rect x="310" y="409.5" width="1" height="10.4" fill="#800080"/><rect x="311" y="409.5" width="1" height="11.4" fill="#800080"/><rect x="312" y="409.5" width="1" height="9.4" fill="#800080"/><rect x="313" y="409.5" width="1" height="6.1" fill="#800080"/><rect x="314" y="409.5" width="1" height="3.3" fill="#800080"/><rect x="315" y="409.5" width="1" height="0.7" fill="#800080"/><rect x="316" y="406.9" width="1" height="2.6" fill="#800080"/><rect x="317" y="403.1" width="1" height="6.4" fill="#800080"/><rect x="318" y="399.6" width="1" height="9.9" fill="#800080"/><rect x="319" y="397.9" width="1" height="11.6" fill="#800080"/><rect x="320" y="396.2" width="1" height="13.3" fill="#800080"/><rect x="321" y="397.9" width="1" height="11.6" fill="#800080"/><rect x="322" y="399.0" width="1" height="10.5" fill="#800080"/><rect x="323" y="400.4" width="1" height="9.1" fill="#800080"/><rect x="324" y="401.8" width="1" height="7.7" fill="#800080"/><rect x="325" y="402.3" width="1" height="7.2" fill="#800080"/><rect x="326" y="403.7" width="1" height="5.8" fill="#800080"/><rect x="327" y="404.4" width="1" height="5.1" fill="#800080"/><rect x="328" y="405.8" width="1" height="3.7" fill="#800080"/><rect x="329" y="404.5" width="1" height="5.0" fill="#800080"/><rect x="330" y="403.2" width="1" height="6.3" fill="#800080"/><rect x="331" y="401.6" width="1" height="7.9" fill="#800080"/><rect x="332" y="401.2" width="1" height="8.3" fill="#800080"/><rect x="333" y="401.6" width="1" height="7.9" fill="#800080"/><rect x="334" y="402.0" width="1" height="7.5" fill="#800080"/><rect x="335" y="401.9" width="1" height="7.6" fill="#800080"/><rect x="336" y="402.7" width="1" height="6.8" fill="#800080"/><rect x="337" y="404.2" width="1" height="5.3" fill="#800080"/><rect x="338" y="405.8" width="1" height="3.7" fill="#800080"/><rect x="339" y="408.5" width="1" height="1.0" fill="#800080"/><rect x="340" y="409.5" width="1" height="0.5" fill="#800080"/><rect x="341" y="409.5" width="1" height="0.7" fill="#800080"/><rect x="342" y="409.5" width="1" height="1.7" fill="#800080"/><rect x="343" y="409.5" width="1" height="2.8" fill="#800080"/><rect x="344" y="409.5" width="1" height="3.8" fill="#800080"/><rect x="345" y="409.5" width="1" height="4.0" fill="#800080"/><rect x="346" y="409.5" width="1" height="4.4" fill="#800080"/><rect x="347" y="409.5" width="1" height="4.6" fill="#800080"/><rect x="348" y="409.5" width="1" height="3.8" fill="#800080"/><rect x="349" y="409.5" width="1" height="2.2" fill="#800080"/><rect x="350" y="409.5" width="1" height="0.6" fill="#800080"/><rect x="351" y="409.5" width="1" height="1.0" fill="#800080"/><rect x="352" y="409.5" width="1" height="1.8" fill="#800080"/><rect x="353" y="409.5" width="1" height="3.5" fill="#800080"/><rect x="354" y="409.5" width="1" height="5.5" fill="#800080"/><rect x="355" y="409.5" width="1" height="5.9" fill="#800080"/><rect x="356" y="409.5" width="1" height="4.2" fill="#800080"/><rect x="357" y="409.5" width="1" height="3.1" fill="#800080"/><rect x="358" y="409.5" width="1" height="1.3" fill="#800080"/><rect x="359" y="409.5" width="1" height="0.5" fill="#800080"/><rect x="360" y="404.3" width="1" height="5.2" fill="#800080"/><rect x="361" y="403.5" width="1" height="6.0" fill="#800080"/><rect x="362" y="403.5" width="1" height="6.0" fill="#800080"/><rect x="363" y="402.8" width="1" height="6.7" fill="#800080"/><rect x="364" y="402.4" width="1" height="7.1" fill="#800080"/><rect x="365" y="401.4" width="1" height="8.1" fill="#800080"/><rect x="366" y="401.1" width="1" height="8.4" fill="#800080"/><rect x="367" y="399.9" width="1" height="9.6" fill="#800080"/><rect x="368" y="398.7" width="1" height="10.8" fill="#800080"/><rect x="369" y="399.2" width="1" height="10.3" fill="#800080"/><rect x="370" y="398.6" width="1" height="10.9" fill="#800080"/><rect x="371" y="400.2" width="1" height="9.3" fill="#800080"/><rect x="372" y="400.6" width="1" height="8.9" fill="#800080"/><rect x="373" y="403.2" width="1" height="6.3" fill="#800080"/><rect x="374" y="401.7" width="1" height="7.8" fill="#800080"/><rect x="375" y="400.4" width="1" height="9.1" fill="#800080"/><rect x="376" y="398.6" width="1" height="10.9" fill="#800080"/><rect x="377" y="395.8" width="1" height="13.7" fill="#800080"/><rect x="378" y="393.5" width="1" height="16.0" fill="#800080"/><rect x="379" y="390.9" width="1" height="18.6" fill="#800080"/><rect x="380" y="388.5" width="1" height="21.0" fill="#800080"/><rect x="381" y="385.3" width="1" height="24.2" fill="#800080"/><rect x="382" y="381.2" width="1" height="28.3" fill="#800080"/><rect x="383" y="378.4" width="1" height="31.1" fill="#800080"/><rect x="384" y="378.0" width="1" height="31.5" fill="#800080"/><rect x="385" y="380.1" width="1" height="29.4" fill="#800080"/><rect x="386" y="378.1" width="1" height="31.4" fill="#800080"/><rect x="387" y="379.5" width="1" height="30.0" fill="#800080"/><rect x="388" y="381.4" width="1" height="28.1" fill="#800080"/><rect x="389" y="383.1" width="1" height="26.4" fill="#800080"/><rect x="390" y="384.3" width="1" height="25.2" fill="#800080"/><rect x="391" y="384.0" width="1" height="25.5" fill="#800080"/><rect x="392" y="384.4" width="1" height="25.1" fill="#800080"/><rect x="393" y="384.6" width="1" height="24.9" fill="#800080"/><rect x="394" y="385.8" width="1" height="23.7" fill="#800080"/><rect x="395" y="386.8" width="1" height="22.7" fill="#800080"/><rect x="396" y="387.8" width="1" height="21.7" fill="#800080"/><rect x="397" y="390.1" width="1" height="19.4" fill="#800080"/><rect x="398" y="392.2" width="1" height="17.3" fill="#800080"/><rect x="399" y="394.2" width="1" height="15.3" fill="#800080"/><rect x="400" y="396.1" width="1" height="13.4" fill="#800080"/><rect x="401" y="398.5" width="1" height="11.0" fill="#800080"/><rect x="402" y="399.9" width="1" height="9.6" fill="#800080"/><rect x="403" y="401.9" width="1" height="7.6" fill="#800080"/><rect x="404" y="402.5" width="1" height="7.0" fill="#800080"/><rect x="405" y="403.0" width="1" height="6.5" fill="#800080"/><rect x="406" y="403.3" width="1" height="6.2" fill="#800080"/><rect x="407" y="404.1" width="1" height="5.4" fill="#800080"/><polyline points="3,419.5 4,419.5 5,418.2 6,416.9 7,415.9 8,414.9 9,414.5 10,414.0 11,413.6 12,413.4 13,413.1 14,412.9 15,414.2 16,415.5 17,417.5 18,419.5 19,420.9 20,422.2 21,420.5 22,418.9 23,417.2 24,415.5 25,414.9 26,414.2 27,413.6 28,413.3 29,412.9 30,412.5 31,412.2 32,412.2 33,412.2 34,412.2 35,412.2 36,412.2 37,412.3 38,412.5 39,412.6 40,412.8 41,412.9 42,413.3 43,413.8 44,414.2 45,415.1 46,416.0 47,416.9 48,418.4 49,420.0 50,421.5 51,423.1 52,424.6 53,426.2 54,427.9 55,429.5 56,428.8 57,428.2 58,427.5 59,427.1 60,426.6 61,426.2 62,425.5 63,424.9 64,424.2 65,423.5 66,422.9 67,422.2 68,421.3 69,420.4 70,419.5 71,418.6 72,417.8 73,416.9 74,416.0 75,415.1 76,414.2 77,412.5 78,410.9 79,409.6 80,405.0 81,401.0 82,401.5 83,402.0 84,401.9 85,401.9 86,401.5 87,401.2 88,401.5 89,401.9 90,400.9 91,400.0 92,400.0 93,400.0 94,399.6 95,399.3 96,399.0 97,398.6 98,397.3 99,396.0 100,394.6 101,393.3 102,394.6 103,396.0 104,398.0 105,400.0 106,402.3 107,404.6 108,404.6 109,404.6 110,404.6 111,404.6 112,404.8 113,405.0 114,405.2 115,405.2 116,405.2 117,405.2 118,404.5 119,403.9 120,401.2 121,398.6 122,398.0 123,397.3 124,398.6 125,400.0 126,401.6 127,403.2 128,403.5 129,403.9 130,405.2 131,406.6 132,409.2 133,407.9 134,406.6 135,405.6 136,404.6 137,403.6 138,402.6 139,401.9 140,401.2 141,400.6 142,400.0 143,400.6 144,401.2 145,403.2 146,405.2 147,406.5 148,407.9 149,408.5 150,409.2 151,410.5 152,411.9 153,413.2 154,414.5 155,415.9 156,417.2 157,418.5 158,419.8 159,421.1 160,422.5 161,423.1 162,423.8 163,423.1 164,422.5 165,421.1 166,419.8 167,417.2 168,415.9 169,414.5 170,413.9 171,413.2 172,412.5 173,411.9 174,411.2 175,410.5 176,409.9 177,408.6 178,407.2 179,405.9 180,404.9 181,403.9 182,402.5 183,401.2 184,400.2 185,399.3 186,398.3 187,397.3 188,396.6 189,395.9 190,395.5 191,396.4 192,398.6 193,399.9 194,401.2 195,399.9 196,398.6 197,397.6 198,396.6 199,397.0 200,397.3 201,398.3 202,399.3 203,400.2 204,401.2 205,402.5 206,403.9 207,405.9 208,407.9 209,409.9 210,410.9 211,411.9 212,412.5 213,413.2 214,414.5 215,415.9 216,416.5 217,417.2 218,418.2 219,419.2 220,419.9 221,420.5 222,418.9 223,417.2 224,415.2 225,413.2 226,409.9 227,407.2 228,407.2 229,407.2 230,407.2 231,407.2 232,407.2 233,407.2 234,407.2 235,407.2 236,407.2 237,407.1 238,407.0 239,406.8 240,406.7 241,406.6 242,406.2 243,405.9 244,406.2 245,406.6 246,407.6 247,408.6 248,409.9 249,410.5 250,407.9 251,405.9 252,403.9 253,404.2 254,404.6 255,405.6 256,406.6 257,407.9 258,409.2 259,411.2 260,413.2 261,414.9 262,416.5 263,418.1 264,419.8 265,420.5 266,421.2 267,421.2 268,421.2 269,420.5 270,419.8 271,418.1 272,416.5 273,414.9 274,413.2 275,412.2 276,411.2 277,410.9 278,410.5 279,410.5 280,410.5 281,409.2 282,406.5 283,403.9 284,401.9 285,399.9 286,398.6 287,397.3 288,396.0 289,394.6 290,393.6 291,392.6 292,393.0 293,393.3 294,393.3 295,394.6 296,397.3 297,399.0 298,400.6 299,401.9 300,403.2 301,404.2 302,405.2 303,406.5 304,407.9 305,409.9 306,411.5 307,413.2 308,414.9 309,416.5 310,418.1 311,419.8 312,421.2 313,418.5 314,415.9 315,413.2 316,410.5 317,406.6 318,403.2 319,399.9 320,398.2 321,396.6 322,397.8 323,398.9 324,400.2 325,401.6 326,402.6 327,403.6 328,404.6 329,405.5 330,404.2 331,402.9 332,401.9 333,400.9 334,401.2 335,401.6 336,402.2 337,402.9 338,404.5 339,406.2 340,408.2 341,409.3 342,410.1 343,410.9 344,412.2 345,413.5 346,413.9 347,414.2 348,413.9 349,413.5 350,411.9 351,410.2 352,410.9 353,411.5 354,413.1 355,414.8 356,415.5 357,413.9 358,412.2 359,410.8 360,409.3 361,404.2 362,403.9 363,403.6 364,402.9 365,402.2 366,401.5 367,400.9 368,399.9 369,398.9 370,398.9 371,398.9 372,399.9 373,400.9 374,403.6 375,401.9 376,400.2 377,398.2 378,396.2 379,393.5 380,390.9 381,388.2 382,385.6 383,381.2 384,378.6 385,377.7 386,380.3 387,377.7 388,379.6 389,381.6 390,383.0 391,384.3 392,384.3 393,384.3 394,385.0 395,385.6 396,386.6 397,387.6 398,390.0 399,392.3 400,394.2 401,396.2 402,398.2 403,400.2 404,401.5 405,402.9 406,403.2 407,403.5" fill="none" stroke="#ff0000" stroke-width="1.1" stroke-dasharray="1.6,2.2"/><polyline points="3,414.2 4,411.6 5,410.6 6,403.2 7,402.2 8,405.1 9,405.0 10,404.3 11,404.7 12,404.6 13,405.5 14,406.0 15,409.4 16,410.6 17,413.2 18,414.0 19,412.1 20,410.3 21,407.5 22,404.0 23,403.6 24,403.3 25,401.3 26,400.8 27,402.1 28,404.1 29,405.2 30,404.1 31,402.8 32,401.6 33,403.2 34,405.1 35,403.8 36,403.9 37,404.4 38,407.4 39,404.5 40,400.6 41,405.5 42,405.9 43,408.2 44,411.5 45,413.0 46,414.8 47,414.7 48,414.7 49,416.6 50,415.9 51,417.4 52,419.2 53,417.6 54,417.9 55,418.3 56,417.4 57,415.3 58,413.9 59,414.5 60,414.6 61,414.5 62,412.7 63,412.2 64,411.3 65,410.4 66,411.1 67,410.5 68,408.7 69,407.5 70,408.2 71,407.9 72,406.9 73,406.1 74,405.9 75,403.5 76,401.4 77,396.9 78,392.5 79,390.7 80,390.2 81,395.4 82,396.7 83,397.2 84,397.6 85,394.7 86,393.1 87,395.8 88,398.9 89,396.4 90,395.1 91,396.4 92,395.2 93,395.1 94,394.0 95,393.7 96,394.6 97,393.8 98,389.4 99,388.1 100,389.8 101,394.0 102,397.1 103,398.6 104,398.9 105,401.4 106,402.7 107,404.5 108,402.0 109,400.4 110,401.5 111,401.3 112,400.7 113,401.8 114,400.5 115,402.4 116,400.0 117,399.3 118,395.6 119,395.9 120,391.2 121,390.4 122,394.0 123,396.3 124,397.3 125,399.4 126,400.4 127,402.1 128,402.2 129,403.6 130,405.2 131,408.5 132,406.4 133,402.7 134,400.6 135,400.8 136,399.4 137,398.6 138,397.3 139,398.0 140,396.8 141,394.9 142,396.5 143,398.8 144,399.5 145,403.1 146,400.6 147,400.4 148,402.8 149,404.7 150,406.2 151,408.1 152,410.4 153,410.9 154,413.8 155,413.5 156,415.8 157,415.3 158,415.9 159,415.9 160,415.7 161,414.4 162,412.3 163,412.5 164,410.6 165,409.8 166,410.0 167,408.5 168,406.4 169,406.0 170,405.0 171,403.2 172,403.7 173,402.2 174,398.8 175,396.8 176,398.0 177,398.6 178,395.3 179,395.5 180,394.3 181,392.0 182,391.7 183,393.8 184,392.0 185,390.0 186,390.6 187,391.7 188,390.9 189,391.3 190,393.7 191,398.6 192,404.1 193,403.4 194,398.4 195,396.9 196,395.5 197,395.3 198,396.4 199,398.3 200,397.3 201,396.8 202,397.2 203,400.5 204,400.4 205,401.2 206,401.4 207,403.6 208,403.7 209,404.0 210,404.2 211,404.3 212,407.2 213,408.1 214,410.5 215,411.0 216,411.5 217,411.2 218,411.7 219,412.8 220,409.9 221,411.4 222,407.5 223,404.8 224,402.4 225,400.2 226,399.6 227,400.4 228,402.1 229,400.1 230,401.0 231,400.4 232,399.7 233,402.2 234,401.7 235,401.7 236,400.8 237,403.2 238,401.0 239,400.0 240,400.7 241,398.1 242,400.5 243,400.9 244,400.4 245,401.9 246,401.6 247,402.9 248,404.0 249,401.3 250,396.5 251,398.8 252,400.4 253,401.0 254,402.0 255,402.4 256,405.5 257,406.0 258,407.9 259,408.3 260,409.9 261,412.1 262,412.3 263,412.3 264,410.8 265,411.1 266,411.4 267,411.4 268,410.9 269,410.6 270,408.0 271,407.8 272,406.2 273,403.7 274,400.7 275,401.0 276,399.9 277,401.1 278,403.7 279,404.2 280,405.6 281,403.3 282,401.0 283,397.5 284,394.9 285,394.3 286,393.8 287,394.9 288,396.4 289,393.5 290,393.0 291,392.2 292,392.7 293,393.6 294,396.5 295,398.0 296,401.9 297,403.0 298,403.0 299,402.9 300,404.7 301,405.3 302,405.4 303,405.9 304,407.4 305,408.7 306,409.4 307,410.7 308,412.3 309,413.3 310,411.3 311,412.4 312,410.7 313,406.3 314,403.4 315,398.3 316,396.6 317,394.5 318,394.0 319,395.6 320,396.4 321,398.0 322,398.9 323,398.8 324,400.0 325,398.2 326,398.6 327,397.8 328,398.0 329,393.6 330,395.0 331,398.1 332,395.9 333,397.4 334,394.8 335,396.6 336,396.9 337,398.9 338,402.1 339,402.2 340,404.5 341,404.1 342,404.4 343,406.9 344,407.8 345,409.1 346,407.1 347,403.8 348,404.2 349,403.4 350,404.4 351,407.3 352,406.6 353,409.4 354,407.8 355,404.9 356,402.6 357,402.0 358,400.7 359,397.1 360,399.4 361,402.2 362,399.4 363,399.8 364,397.5 365,395.1 366,395.2 367,395.1 368,395.4 369,396.7 370,395.6 371,397.7 372,398.9 373,402.0 374,403.3 375,401.8 376,398.6 377,397.0 378,394.8 379,391.7 380,388.5 381,386.1 382,383.9 383,385.5 384,386.8 385,389.2 386,394.9 387,397.8 388,396.1 389,395.1 390,393.9 391,393.5 392,394.1 393,395.6 394,394.6 395,396.4 396,397.2 397,398.9 398,399.7 399,399.7 400,400.3 401,402.0 402,403.4 403,404.5 404,405.7 405,404.6 406,401.5 407,403.1" fill="none" stroke="#1e90ff" stroke-width="1.6" stroke-linejoin="bevel"/><text transform="translate(4.28,385.3) scale(1.0049,1)" font-family="Liberation Sans, sans-serif" font-size="11.5" fill="#1a1a1a"  stroke="#1a1a1a" stroke-width="0.2">MACD(5,34,5) 0.005231 0.005011 RSI(14) 52.09</text><line x1="577" y1="371.5" x2="580" y2="371.5" stroke="#000" stroke-width="1"/><line x1="577" y1="390.5" x2="580" y2="390.5" stroke="#000" stroke-width="1"/><line x1="577" y1="416.5" x2="580" y2="416.5" stroke="#000" stroke-width="1"/><line x1="577" y1="435.5" x2="580" y2="435.5" stroke="#000" stroke-width="1"/><text transform="translate(580.23,381.6) scale(1.0239,1)" font-family="Liberation Sans, sans-serif" font-size="11.5" fill="#000"  stroke="#000" stroke-width="0.2">0.047766</text><text transform="translate(580.09,394.6) scale(1.0536,1)" font-family="Liberation Sans, sans-serif" font-size="11.5" fill="#000"  stroke="#000" stroke-width="0.2">70.00</text><text transform="translate(580.22,419.8) scale(1.0492,1)" font-family="Liberation Sans, sans-serif" font-size="11.5" fill="#000"  stroke="#000" stroke-width="0.2">30.00</text><text transform="translate(580.98,433.0) scale(1.0084,1)" font-family="Liberation Sans, sans-serif" font-size="11.5" fill="#000"  stroke="#000" stroke-width="0.2">-0.031459</text><line x1="2.5" y1="435" x2="2.5" y2="439" stroke="#000" stroke-width="1"/><text transform="translate(1.65,450.0) scale(0.9804,1)" font-family="Liberation Sans, sans-serif" font-size="11.5" fill="#000"  stroke="#000" stroke-width="0.2">19 Feb 2021</text><line x1="119.5" y1="435" x2="119.5" y2="439" stroke="#000" stroke-width="1"/><text transform="translate(118.63,450.0) scale(1.0058,1)" font-family="Liberation Sans, sans-serif" font-size="11.5" fill="#000"  stroke="#000" stroke-width="0.2">18 Aug 2021</text><line x1="236.5" y1="435" x2="236.5" y2="439" stroke="#000" stroke-width="1"/><text transform="translate(235.65,450.0) scale(0.9899,1)" font-family="Liberation Sans, sans-serif" font-size="11.5" fill="#000"  stroke="#000" stroke-width="0.2">14 Feb 2022</text><line x1="353.5" y1="435" x2="353.5" y2="439" stroke="#000" stroke-width="1"/><text transform="translate(352.40,450.0) scale(1.0390,1)" font-family="Liberation Sans, sans-serif" font-size="11.5" fill="#000"  stroke="#000" stroke-width="0.2">11 Aug 2022</text></svg></body></html>
